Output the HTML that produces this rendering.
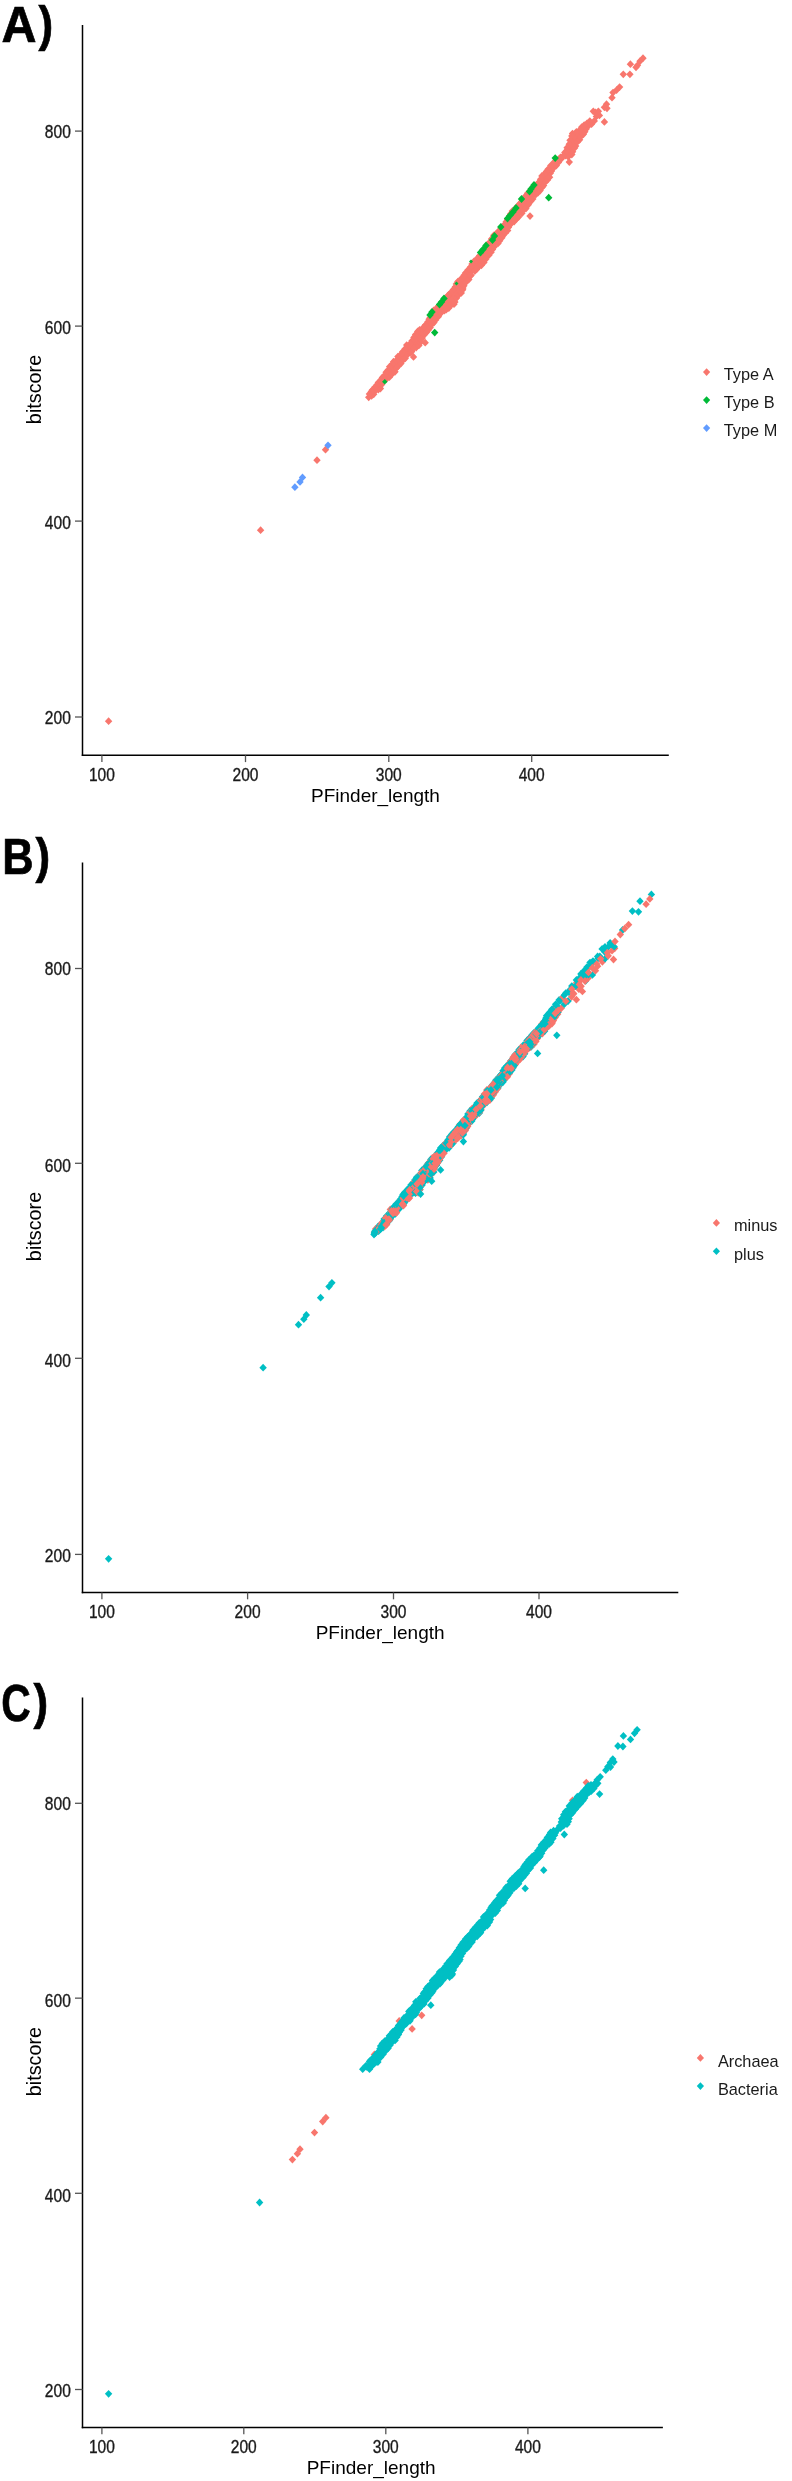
<!DOCTYPE html>
<html><head><meta charset="utf-8"><title>PFinder bitscore scatter</title>
<style>html,body{margin:0;padding:0;background:#fff;} svg{display:block;will-change:transform;}</style></head>
<body><svg width="792" height="2481" viewBox="0 0 792 2481">
<rect width="792" height="2481" fill="#fff"/>
<text transform="translate(1.55,41.75) scale(0.96,1)" font-family='"Liberation Sans", sans-serif' font-weight="bold" font-size="50.5" fill="#000" stroke="#000" stroke-width="0.7">A</text>
<text transform="translate(38.6,40.5) scale(0.87,1)" font-family='"Liberation Sans", sans-serif' font-weight="bold" font-size="50.5" fill="#000" stroke="#000" stroke-width="0.7">)</text>
<line x1="82.5" y1="25" x2="82.5" y2="756.05" stroke="#000" stroke-width="1.5"/>
<line x1="81.75" y1="755.3" x2="668.8" y2="755.3" stroke="#000" stroke-width="1.5"/>
<line x1="75.0" y1="131.1" x2="82.5" y2="131.1" stroke="#555" stroke-width="1.3"/>
<text transform="translate(70.8,138.3) scale(0.865,1)" text-anchor="end" font-family='"Liberation Sans", sans-serif' font-size="18" fill="#1a1a1a" stroke="#1a1a1a" stroke-width="0.35">800</text>
<line x1="75.0" y1="326.1" x2="82.5" y2="326.1" stroke="#555" stroke-width="1.3"/>
<text transform="translate(70.8,334.4) scale(0.865,1)" text-anchor="end" font-family='"Liberation Sans", sans-serif' font-size="18" fill="#1a1a1a" stroke="#1a1a1a" stroke-width="0.35">600</text>
<line x1="75.0" y1="521.1" x2="82.5" y2="521.1" stroke="#555" stroke-width="1.3"/>
<text transform="translate(70.8,529.3) scale(0.865,1)" text-anchor="end" font-family='"Liberation Sans", sans-serif' font-size="18" fill="#1a1a1a" stroke="#1a1a1a" stroke-width="0.35">400</text>
<line x1="75.0" y1="717.0" x2="82.5" y2="717.0" stroke="#555" stroke-width="1.3"/>
<text transform="translate(70.8,724.3) scale(0.865,1)" text-anchor="end" font-family='"Liberation Sans", sans-serif' font-size="18" fill="#1a1a1a" stroke="#1a1a1a" stroke-width="0.35">200</text>
<line x1="101.9" y1="755.3" x2="101.9" y2="762.0999999999999" stroke="#555" stroke-width="1.3"/>
<text transform="translate(101.9,780.9) scale(0.865,1)" text-anchor="middle" font-family='"Liberation Sans", sans-serif' font-size="18" fill="#1a1a1a" stroke="#1a1a1a" stroke-width="0.35">100</text>
<line x1="245.5" y1="755.3" x2="245.5" y2="762.0999999999999" stroke="#555" stroke-width="1.3"/>
<text transform="translate(245.5,780.9) scale(0.865,1)" text-anchor="middle" font-family='"Liberation Sans", sans-serif' font-size="18" fill="#1a1a1a" stroke="#1a1a1a" stroke-width="0.35">200</text>
<line x1="388.8" y1="755.3" x2="388.8" y2="762.0999999999999" stroke="#555" stroke-width="1.3"/>
<text transform="translate(388.8,780.9) scale(0.865,1)" text-anchor="middle" font-family='"Liberation Sans", sans-serif' font-size="18" fill="#1a1a1a" stroke="#1a1a1a" stroke-width="0.35">300</text>
<line x1="531.7" y1="755.3" x2="531.7" y2="762.0999999999999" stroke="#555" stroke-width="1.3"/>
<text transform="translate(531.7,780.9) scale(0.865,1)" text-anchor="middle" font-family='"Liberation Sans", sans-serif' font-size="18" fill="#1a1a1a" stroke="#1a1a1a" stroke-width="0.35">400</text>
<text x="311.0" y="801.6" font-family='"Liberation Sans", sans-serif' font-size="19.0" fill="#000">PFinder_length</text>
<text transform="translate(40.6,389.5) rotate(-90)" text-anchor="middle" font-family='"Liberation Sans", sans-serif' font-size="19.8" fill="#000">bitscore</text>
<path d="M706.6 368.3L710.2 372.1L706.6 375.9L703.0 372.1Z" fill="#F8766D"/>
<text transform="translate(723.8,379.5) scale(0.96,1)" font-family='"Liberation Sans", sans-serif' font-size="17" fill="#1a1a1a">Type A</text>
<path d="M706.6 396.3L710.2 400.1L706.6 403.9L703.0 400.1Z" fill="#00BA38"/>
<text transform="translate(723.8,407.5) scale(0.96,1)" font-family='"Liberation Sans", sans-serif' font-size="17" fill="#1a1a1a">Type B</text>
<path d="M706.6 424.3L710.2 428.1L706.6 431.9L703.0 428.1Z" fill="#619CFF"/>
<text transform="translate(723.8,435.5) scale(0.96,1)" font-family='"Liberation Sans", sans-serif' font-size="17" fill="#1a1a1a">Type M</text>
<path d="M367.2 396.4 L369.6 396.8 L373.3 394.7 L376.2 390.7 L380.8 387.0 L383.0 380.7 L390.4 376.5 L393.2 372.8 L401.2 362.6 L405.4 357.5 L414.9 348.0 L418.5 346.2 L423.3 335.7 L430.5 327.4 L438.1 316.9 L446.3 308.6 L454.5 303.9 L456.0 299.7 L460.1 294.1 L463.2 288.0 L465.6 283.6 L469.7 276.8 L473.9 272.1 L478.9 266.5 L482.0 264.0 L487.1 257.4 L489.8 253.1 L496.0 245.0 L504.1 234.9 L511.1 224.8 L521.2 213.6 L527.3 205.6 L535.5 195.3 L542.4 188.4 L548.2 178.7 L550.6 173.3 L556.9 164.0 L564.5 154.5 L568.8 156.5 L571.0 154.9 L573.6 150.6 L575.7 143.2 L582.0 135.9 L586.1 129.8 L592.2 122.6 L593.9 120.6 L591.2 121.1 L583.9 124.7 L580.1 129.9 L576.2 131.5 L573.2 133.0 L572.1 135.6 L570.2 139.9 L568.7 145.6 L565.4 152.2 L562.0 156.7 L557.0 160.8 L551.2 165.5 L546.1 172.5 L542.2 176.5 L538.8 181.8 L530.7 189.9 L526.6 195.8 L520.5 203.1 L514.5 209.1 L506.5 221.0 L501.3 228.3 L496.2 233.4 L488.3 243.3 L482.2 251.4 L478.8 255.7 L470.7 267.0 L462.6 276.0 L454.5 287.1 L446.3 297.3 L438.3 306.4 L430.5 315.2 L426.9 322.6 L420.7 329.0 L416.7 333.8 L411.7 341.0 L405.6 347.0 L402.7 352.0 L395.5 360.2 L392.5 364.1 L386.4 372.2 L380.3 380.4 L377.3 383.4 L372.3 390.4 L369.2 394.0 L367.2 396.4Z" fill="#F8766D" stroke="#F8766D" stroke-width="1" stroke-linejoin="round"/>
<path d="M368.7 393.4L372.4 397.3L368.7 401.2L365.0 397.3Z" fill="#F8766D"/>
<path d="M371.6 391.9L375.3 395.8L371.6 399.7L367.9 395.8Z" fill="#F8766D"/>
<path d="M373.7 390.4L377.4 394.3L373.7 398.2L370.0 394.3Z" fill="#F8766D"/>
<path d="M375.4 386.8L379.1 390.7L375.4 394.6L371.7 390.7Z" fill="#F8766D"/>
<path d="M378.3 385.8L382.0 389.7L378.3 393.6L374.6 389.7Z" fill="#F8766D"/>
<path d="M380.4 384.6L384.1 388.5L380.4 392.4L376.7 388.5Z" fill="#F8766D"/>
<path d="M381.7 380.6L385.4 384.5L381.7 388.4L378.0 384.5Z" fill="#F8766D"/>
<path d="M382.3 378.2L386.0 382.1L382.3 386.0L378.6 382.1Z" fill="#F8766D"/>
<path d="M383.1 375.9L386.8 379.8L383.1 383.7L379.4 379.8Z" fill="#F8766D"/>
<path d="M386.2 375.4L389.9 379.3L386.2 383.2L382.5 379.3Z" fill="#F8766D"/>
<path d="M389.4 373.3L393.1 377.2L389.4 381.1L385.7 377.2Z" fill="#F8766D"/>
<path d="M391.7 370.5L395.4 374.4L391.7 378.3L388.0 374.4Z" fill="#F8766D"/>
<path d="M395.0 367.9L398.7 371.8L395.0 375.7L391.3 371.8Z" fill="#F8766D"/>
<path d="M396.4 364.1L400.1 368.0L396.4 371.9L392.7 368.0Z" fill="#F8766D"/>
<path d="M397.8 362.6L401.5 366.5L397.8 370.4L394.1 366.5Z" fill="#F8766D"/>
<path d="M400.9 359.7L404.6 363.6L400.9 367.5L397.2 363.6Z" fill="#F8766D"/>
<path d="M403.5 355.8L407.2 359.7L403.5 363.6L399.8 359.7Z" fill="#F8766D"/>
<path d="M405.3 354.4L409.0 358.3L405.3 362.2L401.6 358.3Z" fill="#F8766D"/>
<path d="M407.5 350.8L411.2 354.7L407.5 358.6L403.8 354.7Z" fill="#F8766D"/>
<path d="M410.6 348.5L414.3 352.4L410.6 356.3L406.9 352.4Z" fill="#F8766D"/>
<path d="M411.7 347.7L415.4 351.6L411.7 355.5L408.0 351.6Z" fill="#F8766D"/>
<path d="M414.1 344.0L417.8 347.9L414.1 351.8L410.4 347.9Z" fill="#F8766D"/>
<path d="M416.2 343.6L419.9 347.5L416.2 351.4L412.5 347.5Z" fill="#F8766D"/>
<path d="M418.9 341.5L422.6 345.4L418.9 349.3L415.2 345.4Z" fill="#F8766D"/>
<path d="M420.3 338.6L424.0 342.5L420.3 346.4L416.6 342.5Z" fill="#F8766D"/>
<path d="M420.9 335.8L424.6 339.7L420.9 343.6L417.2 339.7Z" fill="#F8766D"/>
<path d="M422.2 334.1L425.9 338.0L422.2 341.9L418.5 338.0Z" fill="#F8766D"/>
<path d="M424.4 330.7L428.1 334.6L424.4 338.5L420.7 334.6Z" fill="#F8766D"/>
<path d="M426.3 328.6L430.0 332.5L426.3 336.4L422.6 332.5Z" fill="#F8766D"/>
<path d="M428.2 326.1L431.9 330.0L428.2 333.9L424.5 330.0Z" fill="#F8766D"/>
<path d="M430.2 323.7L433.9 327.6L430.2 331.5L426.5 327.6Z" fill="#F8766D"/>
<path d="M432.0 320.3L435.7 324.2L432.0 328.1L428.3 324.2Z" fill="#F8766D"/>
<path d="M433.9 318.6L437.6 322.5L433.9 326.4L430.2 322.5Z" fill="#F8766D"/>
<path d="M435.6 316.0L439.3 319.9L435.6 323.8L431.9 319.9Z" fill="#F8766D"/>
<path d="M438.3 312.8L442.0 316.7L438.3 320.6L434.6 316.7Z" fill="#F8766D"/>
<path d="M440.7 309.4L444.4 313.3L440.7 317.2L437.0 313.3Z" fill="#F8766D"/>
<path d="M444.5 306.6L448.2 310.5L444.5 314.4L440.8 310.5Z" fill="#F8766D"/>
<path d="M446.3 305.6L450.0 309.5L446.3 313.4L442.6 309.5Z" fill="#F8766D"/>
<path d="M448.8 304.1L452.5 308.0L448.8 311.9L445.1 308.0Z" fill="#F8766D"/>
<path d="M451.1 301.3L454.8 305.2L451.1 309.1L447.4 305.2Z" fill="#F8766D"/>
<path d="M454.0 300.3L457.7 304.2L454.0 308.1L450.3 304.2Z" fill="#F8766D"/>
<path d="M454.9 298.2L458.6 302.1L454.9 306.0L451.2 302.1Z" fill="#F8766D"/>
<path d="M456.5 294.2L460.2 298.1L456.5 302.0L452.8 298.1Z" fill="#F8766D"/>
<path d="M458.4 291.3L462.1 295.2L458.4 299.1L454.7 295.2Z" fill="#F8766D"/>
<path d="M461.3 289.0L465.0 292.9L461.3 296.8L457.6 292.9Z" fill="#F8766D"/>
<path d="M462.7 285.8L466.4 289.7L462.7 293.6L459.0 289.7Z" fill="#F8766D"/>
<path d="M462.9 284.1L466.6 288.0L462.9 291.9L459.2 288.0Z" fill="#F8766D"/>
<path d="M463.9 281.8L467.6 285.7L463.9 289.6L460.2 285.7Z" fill="#F8766D"/>
<path d="M465.5 278.8L469.2 282.7L465.5 286.6L461.8 282.7Z" fill="#F8766D"/>
<path d="M468.8 275.7L472.5 279.6L468.8 283.5L465.1 279.6Z" fill="#F8766D"/>
<path d="M470.3 272.0L474.0 275.9L470.3 279.8L466.6 275.9Z" fill="#F8766D"/>
<path d="M471.1 271.3L474.8 275.2L471.1 279.1L467.4 275.2Z" fill="#F8766D"/>
<path d="M474.8 267.2L478.5 271.1L474.8 275.0L471.1 271.1Z" fill="#F8766D"/>
<path d="M476.5 265.5L480.2 269.4L476.5 273.3L472.8 269.4Z" fill="#F8766D"/>
<path d="M479.2 262.4L482.9 266.3L479.2 270.2L475.5 266.3Z" fill="#F8766D"/>
<path d="M481.4 261.4L485.1 265.3L481.4 269.2L477.7 265.3Z" fill="#F8766D"/>
<path d="M483.9 258.5L487.6 262.4L483.9 266.3L480.2 262.4Z" fill="#F8766D"/>
<path d="M485.9 255.1L489.6 259.0L485.9 262.9L482.2 259.0Z" fill="#F8766D"/>
<path d="M488.9 251.3L492.6 255.2L488.9 259.1L485.2 255.2Z" fill="#F8766D"/>
<path d="M491.1 248.3L494.8 252.2L491.1 256.1L487.4 252.2Z" fill="#F8766D"/>
<path d="M492.5 245.5L496.2 249.4L492.5 253.3L488.8 249.4Z" fill="#F8766D"/>
<path d="M494.3 242.8L498.0 246.7L494.3 250.6L490.6 246.7Z" fill="#F8766D"/>
<path d="M498.0 239.5L501.7 243.4L498.0 247.3L494.3 243.4Z" fill="#F8766D"/>
<path d="M499.7 236.9L503.4 240.8L499.7 244.7L496.0 240.8Z" fill="#F8766D"/>
<path d="M501.9 233.8L505.6 237.7L501.9 241.6L498.2 237.7Z" fill="#F8766D"/>
<path d="M503.1 231.5L506.8 235.4L503.1 239.3L499.4 235.4Z" fill="#F8766D"/>
<path d="M505.3 229.0L509.0 232.9L505.3 236.8L501.6 232.9Z" fill="#F8766D"/>
<path d="M507.7 226.6L511.4 230.5L507.7 234.4L504.0 230.5Z" fill="#F8766D"/>
<path d="M508.5 223.4L512.2 227.3L508.5 231.2L504.8 227.3Z" fill="#F8766D"/>
<path d="M510.8 220.2L514.5 224.1L510.8 228.0L507.1 224.1Z" fill="#F8766D"/>
<path d="M514.2 217.6L517.9 221.5L514.2 225.4L510.5 221.5Z" fill="#F8766D"/>
<path d="M516.5 214.9L520.2 218.8L516.5 222.7L512.8 218.8Z" fill="#F8766D"/>
<path d="M518.5 213.1L522.2 217.0L518.5 220.9L514.8 217.0Z" fill="#F8766D"/>
<path d="M521.9 209.4L525.6 213.3L521.9 217.2L518.2 213.3Z" fill="#F8766D"/>
<path d="M523.2 206.3L526.9 210.2L523.2 214.1L519.5 210.2Z" fill="#F8766D"/>
<path d="M525.9 204.7L529.6 208.6L525.9 212.5L522.2 208.6Z" fill="#F8766D"/>
<path d="M528.3 200.9L532.0 204.8L528.3 208.7L524.6 204.8Z" fill="#F8766D"/>
<path d="M529.2 198.9L532.9 202.8L529.2 206.7L525.5 202.8Z" fill="#F8766D"/>
<path d="M530.9 197.2L534.6 201.1L530.9 205.0L527.2 201.1Z" fill="#F8766D"/>
<path d="M532.8 195.0L536.5 198.9L532.8 202.8L529.1 198.9Z" fill="#F8766D"/>
<path d="M535.7 190.6L539.4 194.5L535.7 198.4L532.0 194.5Z" fill="#F8766D"/>
<path d="M537.9 188.9L541.6 192.8L537.9 196.7L534.2 192.8Z" fill="#F8766D"/>
<path d="M540.1 186.6L543.8 190.5L540.1 194.4L536.4 190.5Z" fill="#F8766D"/>
<path d="M542.0 183.5L545.7 187.4L542.0 191.3L538.3 187.4Z" fill="#F8766D"/>
<path d="M543.6 181.7L547.3 185.6L543.6 189.5L539.9 185.6Z" fill="#F8766D"/>
<path d="M545.2 178.3L548.9 182.2L545.2 186.1L541.5 182.2Z" fill="#F8766D"/>
<path d="M547.5 176.0L551.2 179.9L547.5 183.8L543.8 179.9Z" fill="#F8766D"/>
<path d="M549.6 173.3L553.3 177.2L549.6 181.1L545.9 177.2Z" fill="#F8766D"/>
<path d="M550.3 169.3L554.0 173.2L550.3 177.1L546.6 173.2Z" fill="#F8766D"/>
<path d="M551.5 167.1L555.2 171.0L551.5 174.9L547.8 171.0Z" fill="#F8766D"/>
<path d="M553.9 163.7L557.6 167.6L553.9 171.5L550.2 167.6Z" fill="#F8766D"/>
<path d="M556.3 161.6L560.0 165.5L556.3 169.4L552.6 165.5Z" fill="#F8766D"/>
<path d="M558.4 158.5L562.1 162.4L558.4 166.3L554.7 162.4Z" fill="#F8766D"/>
<path d="M561.1 155.1L564.8 159.0L561.1 162.9L557.4 159.0Z" fill="#F8766D"/>
<path d="M563.4 151.9L567.1 155.8L563.4 159.7L559.7 155.8Z" fill="#F8766D"/>
<path d="M565.5 151.6L569.2 155.5L565.5 159.4L561.8 155.5Z" fill="#F8766D"/>
<path d="M568.2 152.9L571.9 156.8L568.2 160.7L564.5 156.8Z" fill="#F8766D"/>
<path d="M571.8 150.6L575.5 154.5L571.8 158.4L568.1 154.5Z" fill="#F8766D"/>
<path d="M572.6 147.9L576.3 151.8L572.6 155.7L568.9 151.8Z" fill="#F8766D"/>
<path d="M574.6 144.2L578.3 148.1L574.6 152.0L570.9 148.1Z" fill="#F8766D"/>
<path d="M575.7 142.0L579.4 145.9L575.7 149.8L572.0 145.9Z" fill="#F8766D"/>
<path d="M577.2 138.1L580.9 142.0L577.2 145.9L573.5 142.0Z" fill="#F8766D"/>
<path d="M579.6 135.9L583.3 139.8L579.6 143.7L575.9 139.8Z" fill="#F8766D"/>
<path d="M580.4 133.1L584.1 137.0L580.4 140.9L576.7 137.0Z" fill="#F8766D"/>
<path d="M583.4 130.4L587.1 134.3L583.4 138.2L579.7 134.3Z" fill="#F8766D"/>
<path d="M584.8 127.9L588.5 131.8L584.8 135.7L581.1 131.8Z" fill="#F8766D"/>
<path d="M586.1 125.1L589.8 129.0L586.1 132.9L582.4 129.0Z" fill="#F8766D"/>
<path d="M588.6 121.8L592.3 125.7L588.6 129.6L584.9 125.7Z" fill="#F8766D"/>
<path d="M591.5 120.3L595.2 124.2L591.5 128.1L587.8 124.2Z" fill="#F8766D"/>
<path d="M594.3 117.0L598.0 120.9L594.3 124.8L590.6 120.9Z" fill="#F8766D"/>
<path d="M589.8 117.2L593.5 121.1L589.8 125.0L586.1 121.1Z" fill="#F8766D"/>
<path d="M587.0 119.4L590.7 123.3L587.0 127.2L583.3 123.3Z" fill="#F8766D"/>
<path d="M584.2 121.2L587.9 125.1L584.2 129.0L580.5 125.1Z" fill="#F8766D"/>
<path d="M581.8 123.2L585.5 127.1L581.8 131.0L578.1 127.1Z" fill="#F8766D"/>
<path d="M580.0 125.8L583.7 129.7L580.0 133.6L576.3 129.7Z" fill="#F8766D"/>
<path d="M576.4 127.9L580.1 131.8L576.4 135.7L572.7 131.8Z" fill="#F8766D"/>
<path d="M572.5 129.7L576.2 133.6L572.5 137.5L568.8 133.6Z" fill="#F8766D"/>
<path d="M571.8 132.0L575.5 135.9L571.8 139.8L568.1 135.9Z" fill="#F8766D"/>
<path d="M570.0 136.4L573.7 140.3L570.0 144.2L566.3 140.3Z" fill="#F8766D"/>
<path d="M569.2 140.3L572.9 144.2L569.2 148.1L565.5 144.2Z" fill="#F8766D"/>
<path d="M567.1 143.8L570.8 147.7L567.1 151.6L563.4 147.7Z" fill="#F8766D"/>
<path d="M566.9 147.1L570.6 151.0L566.9 154.9L563.2 151.0Z" fill="#F8766D"/>
<path d="M564.8 148.5L568.5 152.4L564.8 156.3L561.1 152.4Z" fill="#F8766D"/>
<path d="M563.4 152.1L567.1 156.0L563.4 159.9L559.7 156.0Z" fill="#F8766D"/>
<path d="M560.5 153.4L564.2 157.3L560.5 161.2L556.8 157.3Z" fill="#F8766D"/>
<path d="M558.6 155.5L562.3 159.4L558.6 163.3L554.9 159.4Z" fill="#F8766D"/>
<path d="M554.3 158.1L558.0 162.0L554.3 165.9L550.6 162.0Z" fill="#F8766D"/>
<path d="M553.1 160.0L556.8 163.9L553.1 167.8L549.4 163.9Z" fill="#F8766D"/>
<path d="M550.8 161.7L554.5 165.6L550.8 169.5L547.1 165.6Z" fill="#F8766D"/>
<path d="M548.0 165.4L551.7 169.3L548.0 173.2L544.3 169.3Z" fill="#F8766D"/>
<path d="M546.4 167.7L550.1 171.6L546.4 175.5L542.7 171.6Z" fill="#F8766D"/>
<path d="M544.6 169.9L548.3 173.8L544.6 177.7L540.9 173.8Z" fill="#F8766D"/>
<path d="M541.9 172.0L545.6 175.9L541.9 179.8L538.2 175.9Z" fill="#F8766D"/>
<path d="M540.6 175.4L544.3 179.3L540.6 183.2L536.9 179.3Z" fill="#F8766D"/>
<path d="M538.2 179.1L541.9 183.0L538.2 186.9L534.5 183.0Z" fill="#F8766D"/>
<path d="M536.5 181.0L540.2 184.9L536.5 188.8L532.8 184.9Z" fill="#F8766D"/>
<path d="M533.0 183.2L536.7 187.1L533.0 191.0L529.3 187.1Z" fill="#F8766D"/>
<path d="M530.0 187.1L533.7 191.0L530.0 194.9L526.3 191.0Z" fill="#F8766D"/>
<path d="M527.6 189.4L531.3 193.3L527.6 197.2L523.9 193.3Z" fill="#F8766D"/>
<path d="M525.5 192.2L529.2 196.1L525.5 200.0L521.8 196.1Z" fill="#F8766D"/>
<path d="M523.2 196.2L526.9 200.1L523.2 204.0L519.5 200.1Z" fill="#F8766D"/>
<path d="M521.5 198.0L525.2 201.9L521.5 205.8L517.8 201.9Z" fill="#F8766D"/>
<path d="M519.7 199.8L523.4 203.7L519.7 207.6L516.0 203.7Z" fill="#F8766D"/>
<path d="M517.9 201.9L521.6 205.8L517.9 209.7L514.2 205.8Z" fill="#F8766D"/>
<path d="M515.2 204.8L518.9 208.7L515.2 212.6L511.5 208.7Z" fill="#F8766D"/>
<path d="M512.3 207.2L516.0 211.1L512.3 215.0L508.6 211.1Z" fill="#F8766D"/>
<path d="M510.7 209.9L514.4 213.8L510.7 217.7L507.0 213.8Z" fill="#F8766D"/>
<path d="M509.6 212.1L513.3 216.0L509.6 219.9L505.9 216.0Z" fill="#F8766D"/>
<path d="M507.6 215.3L511.3 219.2L507.6 223.1L503.9 219.2Z" fill="#F8766D"/>
<path d="M506.2 217.8L509.9 221.7L506.2 225.6L502.5 221.7Z" fill="#F8766D"/>
<path d="M504.8 220.3L508.5 224.2L504.8 228.1L501.1 224.2Z" fill="#F8766D"/>
<path d="M501.8 223.4L505.5 227.3L501.8 231.2L498.1 227.3Z" fill="#F8766D"/>
<path d="M499.7 226.1L503.4 230.0L499.7 233.9L496.0 230.0Z" fill="#F8766D"/>
<path d="M498.4 228.1L502.1 232.0L498.4 235.9L494.7 232.0Z" fill="#F8766D"/>
<path d="M496.1 229.8L499.8 233.7L496.1 237.6L492.4 233.7Z" fill="#F8766D"/>
<path d="M493.8 231.4L497.5 235.3L493.8 239.2L490.1 235.3Z" fill="#F8766D"/>
<path d="M491.5 235.1L495.2 239.0L491.5 242.9L487.8 239.0Z" fill="#F8766D"/>
<path d="M490.1 238.1L493.8 242.0L490.1 245.9L486.4 242.0Z" fill="#F8766D"/>
<path d="M487.5 240.5L491.2 244.4L487.5 248.3L483.8 244.4Z" fill="#F8766D"/>
<path d="M486.3 243.4L490.0 247.3L486.3 251.2L482.6 247.3Z" fill="#F8766D"/>
<path d="M484.5 245.6L488.2 249.5L484.5 253.4L480.8 249.5Z" fill="#F8766D"/>
<path d="M482.0 248.2L485.7 252.1L482.0 256.0L478.3 252.1Z" fill="#F8766D"/>
<path d="M479.6 251.8L483.3 255.7L479.6 259.6L475.9 255.7Z" fill="#F8766D"/>
<path d="M477.2 254.5L480.9 258.4L477.2 262.3L473.5 258.4Z" fill="#F8766D"/>
<path d="M474.0 257.4L477.7 261.3L474.0 265.2L470.3 261.3Z" fill="#F8766D"/>
<path d="M472.0 260.1L475.7 264.0L472.0 267.9L468.3 264.0Z" fill="#F8766D"/>
<path d="M470.8 262.8L474.5 266.7L470.8 270.6L467.1 266.7Z" fill="#F8766D"/>
<path d="M468.0 266.0L471.7 269.9L468.0 273.8L464.3 269.9Z" fill="#F8766D"/>
<path d="M465.5 269.0L469.2 272.9L465.5 276.8L461.8 272.9Z" fill="#F8766D"/>
<path d="M464.0 271.4L467.7 275.3L464.0 279.2L460.3 275.3Z" fill="#F8766D"/>
<path d="M461.4 274.8L465.1 278.7L461.4 282.6L457.7 278.7Z" fill="#F8766D"/>
<path d="M459.8 276.4L463.5 280.3L459.8 284.2L456.1 280.3Z" fill="#F8766D"/>
<path d="M457.9 277.7L461.6 281.6L457.9 285.5L454.2 281.6Z" fill="#F8766D"/>
<path d="M456.3 280.0L460.0 283.9L456.3 287.8L452.6 283.9Z" fill="#F8766D"/>
<path d="M455.4 282.9L459.1 286.8L455.4 290.7L451.7 286.8Z" fill="#F8766D"/>
<path d="M453.4 285.5L457.1 289.4L453.4 293.3L449.7 289.4Z" fill="#F8766D"/>
<path d="M450.3 289.2L454.0 293.1L450.3 297.0L446.6 293.1Z" fill="#F8766D"/>
<path d="M448.7 291.0L452.4 294.9L448.7 298.8L445.0 294.9Z" fill="#F8766D"/>
<path d="M447.6 292.1L451.3 296.0L447.6 299.9L443.9 296.0Z" fill="#F8766D"/>
<path d="M444.4 295.0L448.1 298.9L444.4 302.8L440.7 298.9Z" fill="#F8766D"/>
<path d="M442.0 298.3L445.7 302.2L442.0 306.1L438.3 302.2Z" fill="#F8766D"/>
<path d="M440.5 300.1L444.2 304.0L440.5 307.9L436.8 304.0Z" fill="#F8766D"/>
<path d="M438.2 302.5L441.9 306.4L438.2 310.3L434.5 306.4Z" fill="#F8766D"/>
<path d="M435.9 305.1L439.6 309.0L435.9 312.9L432.2 309.0Z" fill="#F8766D"/>
<path d="M433.6 306.6L437.3 310.5L433.6 314.4L429.9 310.5Z" fill="#F8766D"/>
<path d="M432.2 309.1L435.9 313.0L432.2 316.9L428.5 313.0Z" fill="#F8766D"/>
<path d="M431.2 311.4L434.9 315.3L431.2 319.2L427.5 315.3Z" fill="#F8766D"/>
<path d="M430.2 313.8L433.9 317.7L430.2 321.6L426.5 317.7Z" fill="#F8766D"/>
<path d="M429.1 315.3L432.8 319.2L429.1 323.1L425.4 319.2Z" fill="#F8766D"/>
<path d="M427.8 318.0L431.5 321.9L427.8 325.8L424.1 321.9Z" fill="#F8766D"/>
<path d="M425.5 321.1L429.2 325.0L425.5 328.9L421.8 325.0Z" fill="#F8766D"/>
<path d="M423.3 323.6L427.0 327.5L423.3 331.4L419.6 327.5Z" fill="#F8766D"/>
<path d="M419.6 325.9L423.3 329.8L419.6 333.7L415.9 329.8Z" fill="#F8766D"/>
<path d="M417.7 327.5L421.4 331.4L417.7 335.3L414.0 331.4Z" fill="#F8766D"/>
<path d="M415.6 330.7L419.3 334.6L415.6 338.5L411.9 334.6Z" fill="#F8766D"/>
<path d="M413.9 333.5L417.6 337.4L413.9 341.3L410.2 337.4Z" fill="#F8766D"/>
<path d="M411.9 337.0L415.6 340.9L411.9 344.8L408.2 340.9Z" fill="#F8766D"/>
<path d="M410.4 339.7L414.1 343.6L410.4 347.5L406.7 343.6Z" fill="#F8766D"/>
<path d="M406.7 341.2L410.4 345.1L406.7 349.0L403.0 345.1Z" fill="#F8766D"/>
<path d="M405.0 345.1L408.7 349.0L405.0 352.9L401.3 349.0Z" fill="#F8766D"/>
<path d="M402.7 347.8L406.4 351.7L402.7 355.6L399.0 351.7Z" fill="#F8766D"/>
<path d="M401.0 350.3L404.7 354.2L401.0 358.1L397.3 354.2Z" fill="#F8766D"/>
<path d="M397.9 352.7L401.6 356.6L397.9 360.5L394.2 356.6Z" fill="#F8766D"/>
<path d="M396.1 356.7L399.8 360.6L396.1 364.5L392.4 360.6Z" fill="#F8766D"/>
<path d="M393.5 357.8L397.2 361.7L393.5 365.6L389.8 361.7Z" fill="#F8766D"/>
<path d="M392.4 360.1L396.1 364.0L392.4 367.9L388.7 364.0Z" fill="#F8766D"/>
<path d="M389.6 362.8L393.3 366.7L389.6 370.6L385.9 366.7Z" fill="#F8766D"/>
<path d="M388.0 366.4L391.7 370.3L388.0 374.2L384.3 370.3Z" fill="#F8766D"/>
<path d="M386.1 368.3L389.8 372.2L386.1 376.1L382.4 372.2Z" fill="#F8766D"/>
<path d="M384.7 371.6L388.4 375.5L384.7 379.4L381.0 375.5Z" fill="#F8766D"/>
<path d="M382.4 373.5L386.1 377.4L382.4 381.3L378.7 377.4Z" fill="#F8766D"/>
<path d="M381.2 375.5L384.9 379.4L381.2 383.3L377.5 379.4Z" fill="#F8766D"/>
<path d="M378.3 378.7L382.0 382.6L378.3 386.5L374.6 382.6Z" fill="#F8766D"/>
<path d="M376.9 381.2L380.6 385.1L376.9 389.0L373.2 385.1Z" fill="#F8766D"/>
<path d="M375.0 383.2L378.7 387.1L375.0 391.0L371.3 387.1Z" fill="#F8766D"/>
<path d="M372.4 386.1L376.1 390.0L372.4 393.9L368.7 390.0Z" fill="#F8766D"/>
<path d="M371.4 387.6L375.1 391.5L371.4 395.4L367.7 391.5Z" fill="#F8766D"/>
<path d="M369.4 390.0L373.1 393.9L369.4 397.8L365.7 393.9Z" fill="#F8766D"/>
<path d="M108.6 717.3L112.3 721.2L108.6 725.1L104.9 721.2Z" fill="#F8766D"/>
<path d="M260.6 526.3L264.3 530.2L260.6 534.1L256.9 530.2Z" fill="#F8766D"/>
<path d="M317.0 456.3L320.7 460.2L317.0 464.1L313.3 460.2Z" fill="#F8766D"/>
<path d="M325.5 445.8L329.2 449.7L325.5 453.6L321.8 449.7Z" fill="#F8766D"/>
<path d="M643.0 54.3L646.7 58.2L643.0 62.1L639.3 58.2Z" fill="#F8766D"/>
<path d="M640.0 57.3L643.7 61.2L640.0 65.1L636.3 61.2Z" fill="#F8766D"/>
<path d="M637.5 61.4L641.2 65.3L637.5 69.2L633.8 65.3Z" fill="#F8766D"/>
<path d="M636.0 63.4L639.7 67.3L636.0 71.2L632.3 67.3Z" fill="#F8766D"/>
<path d="M630.4 60.3L634.1 64.2L630.4 68.1L626.7 64.2Z" fill="#F8766D"/>
<path d="M629.9 70.4L633.6 74.3L629.9 78.2L626.2 74.3Z" fill="#F8766D"/>
<path d="M623.3 70.4L627.0 74.3L623.3 78.2L619.6 74.3Z" fill="#F8766D"/>
<path d="M619.6 83.2L623.3 87.1L619.6 91.0L615.9 87.1Z" fill="#F8766D"/>
<path d="M616.6 86.2L620.3 90.1L616.6 94.0L612.9 90.1Z" fill="#F8766D"/>
<path d="M613.0 88.7L616.7 92.6L613.0 96.5L609.3 92.6Z" fill="#F8766D"/>
<path d="M612.0 93.8L615.7 97.7L612.0 101.6L608.3 97.7Z" fill="#F8766D"/>
<path d="M606.5 100.3L610.2 104.2L606.5 108.1L602.8 104.2Z" fill="#F8766D"/>
<path d="M604.4 103.4L608.1 107.3L604.4 111.2L600.7 107.3Z" fill="#F8766D"/>
<path d="M607.0 104.4L610.7 108.3L607.0 112.2L603.3 108.3Z" fill="#F8766D"/>
<path d="M598.4 107.4L602.1 111.3L598.4 115.2L594.7 111.3Z" fill="#F8766D"/>
<path d="M595.4 108.4L599.1 112.3L595.4 116.2L591.7 112.3Z" fill="#F8766D"/>
<path d="M593.3 107.4L597.0 111.3L593.3 115.2L589.6 111.3Z" fill="#F8766D"/>
<path d="M599.4 111.5L603.1 115.4L599.4 119.3L595.7 115.4Z" fill="#F8766D"/>
<path d="M596.4 112.5L600.1 116.4L596.4 120.3L592.7 116.4Z" fill="#F8766D"/>
<path d="M604.4 118.0L608.1 121.9L604.4 125.8L600.7 121.9Z" fill="#F8766D"/>
<path d="M569.3 158.2L573.0 162.1L569.3 166.0L565.6 162.1Z" fill="#F8766D"/>
<path d="M530.0 212.2L533.7 216.1L530.0 220.0L526.3 216.1Z" fill="#F8766D"/>
<path d="M425.2 338.8L428.9 342.7L425.2 346.6L421.5 342.7Z" fill="#F8766D"/>
<path d="M413.5 353.0L417.2 356.9L413.5 360.8L409.8 356.9Z" fill="#F8766D"/>
<path d="M294.9 483.3L298.6 487.2L294.9 491.1L291.2 487.2Z" fill="#619CFF"/>
<path d="M300.0 478.0L303.7 481.9L300.0 485.8L296.3 481.9Z" fill="#619CFF"/>
<path d="M302.5 473.5L306.2 477.4L302.5 481.3L298.8 477.4Z" fill="#619CFF"/>
<path d="M328.0 441.4L331.7 445.3L328.0 449.2L324.3 445.3Z" fill="#619CFF"/>
<path d="M384.8 379.0L387.5 381.8L384.8 384.6L382.1 381.8Z" fill="#00BA38"/>
<path d="M456.5 281.4L458.5 283.5L456.5 285.6L454.5 283.5Z" fill="#00BA38"/>
<path d="M471.0 259.4L473.0 261.5L471.0 263.6L469.0 261.5Z" fill="#00BA38"/>
<path d="M434.7 328.7L438.4 332.6L434.7 336.5L431.0 332.6Z" fill="#00BA38"/>
<path d="M548.7 193.8L552.4 197.7L548.7 201.6L545.0 197.7Z" fill="#00BA38"/>
<path d="M555.2 154.2L558.9 158.1L555.2 162.0L551.5 158.1Z" fill="#00BA38"/>
<path d="M534.0 181.1L537.7 185.0L534.0 188.9L530.3 185.0Z" fill="#00BA38"/>
<path d="M531.0 185.1L534.7 189.0L531.0 192.9L527.3 189.0Z" fill="#00BA38"/>
<path d="M529.5 187.6L533.2 191.5L529.5 195.4L525.8 191.5Z" fill="#00BA38"/>
<path d="M521.5 195.1L525.2 199.0L521.5 202.9L517.8 199.0Z" fill="#00BA38"/>
<path d="M516.0 204.1L519.7 208.0L516.0 211.9L512.3 208.0Z" fill="#00BA38"/>
<path d="M513.0 208.1L516.7 212.0L513.0 215.9L509.3 212.0Z" fill="#00BA38"/>
<path d="M510.0 211.6L513.7 215.5L510.0 219.4L506.3 215.5Z" fill="#00BA38"/>
<path d="M507.5 214.6L511.2 218.5L507.5 222.4L503.8 218.5Z" fill="#00BA38"/>
<path d="M500.8 223.1L504.5 227.0L500.8 230.9L497.1 227.0Z" fill="#00BA38"/>
<path d="M494.5 232.1L498.2 236.0L494.5 239.9L490.8 236.0Z" fill="#00BA38"/>
<path d="M492.5 236.1L496.2 240.0L492.5 243.9L488.8 240.0Z" fill="#00BA38"/>
<path d="M486.0 241.6L489.7 245.5L486.0 249.4L482.3 245.5Z" fill="#00BA38"/>
<path d="M483.0 245.6L486.7 249.5L483.0 253.4L479.3 249.5Z" fill="#00BA38"/>
<path d="M480.5 248.6L484.2 252.5L480.5 256.4L476.8 252.5Z" fill="#00BA38"/>
<path d="M444.0 294.6L447.7 298.5L444.0 302.4L440.3 298.5Z" fill="#00BA38"/>
<path d="M441.5 298.1L445.2 302.0L441.5 305.9L437.8 302.0Z" fill="#00BA38"/>
<path d="M439.5 300.6L443.2 304.5L439.5 308.4L435.8 304.5Z" fill="#00BA38"/>
<path d="M432.0 308.1L435.7 312.0L432.0 315.9L428.3 312.0Z" fill="#00BA38"/>
<path d="M430.0 311.1L433.7 315.0L430.0 318.9L426.3 315.0Z" fill="#00BA38"/>
<text transform="translate(2.26,873.6) scale(0.86,1)" font-family='"Liberation Sans", sans-serif' font-weight="bold" font-size="50.5" fill="#000" stroke="#000" stroke-width="0.7">B</text>
<text transform="translate(35.6,872.5) scale(0.87,1)" font-family='"Liberation Sans", sans-serif' font-weight="bold" font-size="50.5" fill="#000" stroke="#000" stroke-width="0.7">)</text>
<line x1="82.5" y1="862.6" x2="82.5" y2="1593.25" stroke="#000" stroke-width="1.5"/>
<line x1="81.75" y1="1592.5" x2="678.3" y2="1592.5" stroke="#000" stroke-width="1.5"/>
<line x1="75.0" y1="968.5" x2="82.5" y2="968.5" stroke="#555" stroke-width="1.3"/>
<text transform="translate(70.8,975.4) scale(0.865,1)" text-anchor="end" font-family='"Liberation Sans", sans-serif' font-size="18" fill="#1a1a1a" stroke="#1a1a1a" stroke-width="0.35">800</text>
<line x1="75.0" y1="1163.3" x2="82.5" y2="1163.3" stroke="#555" stroke-width="1.3"/>
<text transform="translate(70.8,1172.0) scale(0.865,1)" text-anchor="end" font-family='"Liberation Sans", sans-serif' font-size="18" fill="#1a1a1a" stroke="#1a1a1a" stroke-width="0.35">600</text>
<line x1="75.0" y1="1358.3" x2="82.5" y2="1358.3" stroke="#555" stroke-width="1.3"/>
<text transform="translate(70.8,1366.5) scale(0.865,1)" text-anchor="end" font-family='"Liberation Sans", sans-serif' font-size="18" fill="#1a1a1a" stroke="#1a1a1a" stroke-width="0.35">400</text>
<line x1="75.0" y1="1554.4" x2="82.5" y2="1554.4" stroke="#555" stroke-width="1.3"/>
<text transform="translate(70.8,1561.7) scale(0.865,1)" text-anchor="end" font-family='"Liberation Sans", sans-serif' font-size="18" fill="#1a1a1a" stroke="#1a1a1a" stroke-width="0.35">200</text>
<line x1="101.9" y1="1592.5" x2="101.9" y2="1599.3" stroke="#555" stroke-width="1.3"/>
<text transform="translate(101.9,1618.1) scale(0.865,1)" text-anchor="middle" font-family='"Liberation Sans", sans-serif' font-size="18" fill="#1a1a1a" stroke="#1a1a1a" stroke-width="0.35">100</text>
<line x1="247.6" y1="1592.5" x2="247.6" y2="1599.3" stroke="#555" stroke-width="1.3"/>
<text transform="translate(247.6,1618.1) scale(0.865,1)" text-anchor="middle" font-family='"Liberation Sans", sans-serif' font-size="18" fill="#1a1a1a" stroke="#1a1a1a" stroke-width="0.35">200</text>
<line x1="393.5" y1="1592.5" x2="393.5" y2="1599.3" stroke="#555" stroke-width="1.3"/>
<text transform="translate(393.5,1618.1) scale(0.865,1)" text-anchor="middle" font-family='"Liberation Sans", sans-serif' font-size="18" fill="#1a1a1a" stroke="#1a1a1a" stroke-width="0.35">300</text>
<line x1="539" y1="1592.5" x2="539" y2="1599.3" stroke="#555" stroke-width="1.3"/>
<text transform="translate(539,1618.1) scale(0.865,1)" text-anchor="middle" font-family='"Liberation Sans", sans-serif' font-size="18" fill="#1a1a1a" stroke="#1a1a1a" stroke-width="0.35">400</text>
<text x="315.7" y="1639.0" font-family='"Liberation Sans", sans-serif' font-size="19.0" fill="#000">PFinder_length</text>
<text transform="translate(40.6,1226.5) rotate(-90)" text-anchor="middle" font-family='"Liberation Sans", sans-serif' font-size="19.8" fill="#000">bitscore</text>
<path d="M716.4 1219.1L720.0 1222.9L716.4 1226.7L712.8 1222.9Z" fill="#F8766D"/>
<text transform="translate(734.0,1231.3) scale(0.96,1)" font-family='"Liberation Sans", sans-serif' font-size="17" fill="#1a1a1a">minus</text>
<path d="M716.4 1247.5L720.0 1251.3L716.4 1255.1L712.8 1251.3Z" fill="#00BFC4"/>
<text transform="translate(734.0,1259.7) scale(0.96,1)" font-family='"Liberation Sans", sans-serif' font-size="17" fill="#1a1a1a">plus</text>
<path d="M372.3 1233.7 L374.5 1234.5 L376.4 1232.6 L383.4 1227.6 L387.2 1222.8 L396.3 1212.7 L403.3 1203.8 L411.0 1193.8 L418.6 1192.8 L422.4 1183.4 L429.6 1179.2 L434.2 1170.0 L434.6 1168.7 L439.8 1159.2 L447.1 1148.8 L455.5 1140.4 L465.1 1132.7 L467.0 1127.1 L474.5 1116.4 L480.4 1111.4 L483.4 1105.5 L492.5 1096.3 L497.9 1088.2 L505.2 1078.8 L510.0 1074.0 L514.0 1066.0 L520.3 1058.7 L528.4 1049.6 L534.4 1042.5 L540.5 1034.5 L546.7 1028.2 L551.5 1023.4 L557.2 1015.0 L558.7 1008.1 L555.0 1007.1 L552.4 1010.4 L547.9 1017.8 L541.6 1024.0 L534.6 1032.1 L526.6 1041.0 L521.5 1048.2 L515.4 1054.3 L508.6 1063.1 L502.5 1072.3 L494.3 1082.5 L487.3 1090.5 L482.8 1096.8 L475.6 1104.9 L465.6 1117.1 L458.6 1126.0 L451.5 1135.1 L444.4 1144.2 L436.2 1154.5 L428.2 1162.5 L420.8 1172.8 L416.7 1177.9 L411.7 1184.9 L402.6 1196.1 L397.5 1202.2 L391.5 1209.2 L383.5 1220.3 L380.4 1224.4 L374.2 1231.5 L372.3 1233.7Z" fill="#00BFC4" stroke="#00BFC4" stroke-width="1" stroke-linejoin="round"/>
<path d="M374.0 1230.6L377.7 1234.5L374.0 1238.4L370.3 1234.5Z" fill="#00BFC4"/>
<path d="M375.4 1229.1L379.1 1233.0L375.4 1236.9L371.7 1233.0Z" fill="#00BFC4"/>
<path d="M378.6 1227.3L382.3 1231.2L378.6 1235.1L374.9 1231.2Z" fill="#00BFC4"/>
<path d="M380.5 1225.2L384.2 1229.1L380.5 1233.0L376.8 1229.1Z" fill="#00BFC4"/>
<path d="M383.0 1223.7L386.7 1227.6L383.0 1231.5L379.3 1227.6Z" fill="#00BFC4"/>
<path d="M384.5 1222.6L388.2 1226.5L384.5 1230.4L380.8 1226.5Z" fill="#F8766D"/>
<path d="M386.7 1220.3L390.4 1224.2L386.7 1228.1L383.0 1224.2Z" fill="#F8766D"/>
<path d="M389.5 1216.5L393.2 1220.4L389.5 1224.3L385.8 1220.4Z" fill="#00BFC4"/>
<path d="M390.3 1215.3L394.0 1219.2L390.3 1223.1L386.6 1219.2Z" fill="#F8766D"/>
<path d="M392.4 1211.9L396.1 1215.8L392.4 1219.7L388.7 1215.8Z" fill="#00BFC4"/>
<path d="M395.0 1210.2L398.7 1214.1L395.0 1218.0L391.3 1214.1Z" fill="#00BFC4"/>
<path d="M396.5 1208.0L400.2 1211.9L396.5 1215.8L392.8 1211.9Z" fill="#00BFC4"/>
<path d="M400.0 1204.2L403.7 1208.1L400.0 1212.0L396.3 1208.1Z" fill="#00BFC4"/>
<path d="M402.3 1200.9L406.0 1204.8L402.3 1208.7L398.6 1204.8Z" fill="#F8766D"/>
<path d="M403.9 1199.5L407.6 1203.4L403.9 1207.3L400.2 1203.4Z" fill="#00BFC4"/>
<path d="M405.8 1197.1L409.5 1201.0L405.8 1204.9L402.1 1201.0Z" fill="#00BFC4"/>
<path d="M406.9 1194.9L410.6 1198.8L406.9 1202.7L403.2 1198.8Z" fill="#00BFC4"/>
<path d="M408.6 1192.6L412.3 1196.5L408.6 1200.4L404.9 1196.5Z" fill="#00BFC4"/>
<path d="M409.7 1190.9L413.4 1194.8L409.7 1198.7L406.0 1194.8Z" fill="#00BFC4"/>
<path d="M411.7 1189.4L415.4 1193.3L411.7 1197.2L408.0 1193.3Z" fill="#F8766D"/>
<path d="M415.6 1189.3L419.3 1193.2L415.6 1197.1L411.9 1193.2Z" fill="#00BFC4"/>
<path d="M418.2 1188.9L421.9 1192.8L418.2 1196.7L414.5 1192.8Z" fill="#F8766D"/>
<path d="M420.2 1185.6L423.9 1189.5L420.2 1193.4L416.5 1189.5Z" fill="#F8766D"/>
<path d="M420.8 1182.4L424.5 1186.3L420.8 1190.2L417.1 1186.3Z" fill="#F8766D"/>
<path d="M422.1 1181.2L425.8 1185.1L422.1 1189.0L418.4 1185.1Z" fill="#00BFC4"/>
<path d="M423.6 1178.1L427.3 1182.0L423.6 1185.9L419.9 1182.0Z" fill="#00BFC4"/>
<path d="M427.8 1176.0L431.5 1179.9L427.8 1183.8L424.1 1179.9Z" fill="#F8766D"/>
<path d="M430.2 1174.0L433.9 1177.9L430.2 1181.8L426.5 1177.9Z" fill="#00BFC4"/>
<path d="M431.4 1170.4L435.1 1174.3L431.4 1178.2L427.7 1174.3Z" fill="#00BFC4"/>
<path d="M433.8 1168.2L437.5 1172.1L433.8 1176.0L430.1 1172.1Z" fill="#00BFC4"/>
<path d="M434.2 1164.5L437.9 1168.4L434.2 1172.3L430.5 1168.4Z" fill="#F8766D"/>
<path d="M436.7 1161.1L440.4 1165.0L436.7 1168.9L433.0 1165.0Z" fill="#00BFC4"/>
<path d="M437.5 1158.7L441.2 1162.6L437.5 1166.5L433.8 1162.6Z" fill="#00BFC4"/>
<path d="M439.7 1156.4L443.4 1160.3L439.7 1164.2L436.0 1160.3Z" fill="#00BFC4"/>
<path d="M441.6 1152.8L445.3 1156.7L441.6 1160.6L437.9 1156.7Z" fill="#00BFC4"/>
<path d="M444.0 1149.3L447.7 1153.2L444.0 1157.1L440.3 1153.2Z" fill="#F8766D"/>
<path d="M446.2 1145.7L449.9 1149.6L446.2 1153.5L442.5 1149.6Z" fill="#00BFC4"/>
<path d="M449.1 1143.9L452.8 1147.8L449.1 1151.7L445.4 1147.8Z" fill="#00BFC4"/>
<path d="M451.5 1140.8L455.2 1144.7L451.5 1148.6L447.8 1144.7Z" fill="#F8766D"/>
<path d="M453.0 1139.4L456.7 1143.3L453.0 1147.2L449.3 1143.3Z" fill="#00BFC4"/>
<path d="M455.8 1135.9L459.5 1139.8L455.8 1143.7L452.1 1139.8Z" fill="#F8766D"/>
<path d="M458.4 1133.8L462.1 1137.7L458.4 1141.6L454.7 1137.7Z" fill="#F8766D"/>
<path d="M461.1 1131.8L464.8 1135.7L461.1 1139.6L457.4 1135.7Z" fill="#F8766D"/>
<path d="M463.4 1130.8L467.1 1134.7L463.4 1138.6L459.7 1134.7Z" fill="#00BFC4"/>
<path d="M465.4 1126.6L469.1 1130.5L465.4 1134.4L461.7 1130.5Z" fill="#F8766D"/>
<path d="M466.2 1124.5L469.9 1128.4L466.2 1132.3L462.5 1128.4Z" fill="#F8766D"/>
<path d="M467.7 1122.5L471.4 1126.4L467.7 1130.3L464.0 1126.4Z" fill="#F8766D"/>
<path d="M469.4 1119.0L473.1 1122.9L469.4 1126.8L465.7 1122.9Z" fill="#F8766D"/>
<path d="M471.8 1117.1L475.5 1121.0L471.8 1124.9L468.1 1121.0Z" fill="#00BFC4"/>
<path d="M472.7 1115.1L476.4 1119.0L472.7 1122.9L469.0 1119.0Z" fill="#00BFC4"/>
<path d="M474.3 1113.2L478.0 1117.1L474.3 1121.0L470.6 1117.1Z" fill="#00BFC4"/>
<path d="M476.5 1111.2L480.2 1115.1L476.5 1119.0L472.8 1115.1Z" fill="#F8766D"/>
<path d="M479.4 1109.2L483.1 1113.1L479.4 1117.0L475.7 1113.1Z" fill="#00BFC4"/>
<path d="M481.1 1105.9L484.8 1109.8L481.1 1113.7L477.4 1109.8Z" fill="#F8766D"/>
<path d="M482.7 1102.4L486.4 1106.3L482.7 1110.2L479.0 1106.3Z" fill="#F8766D"/>
<path d="M484.6 1100.2L488.3 1104.1L484.6 1108.0L480.9 1104.1Z" fill="#F8766D"/>
<path d="M487.0 1098.4L490.7 1102.3L487.0 1106.2L483.3 1102.3Z" fill="#00BFC4"/>
<path d="M489.9 1096.1L493.6 1100.0L489.9 1103.9L486.2 1100.0Z" fill="#F8766D"/>
<path d="M491.4 1094.2L495.1 1098.1L491.4 1102.0L487.7 1098.1Z" fill="#00BFC4"/>
<path d="M493.5 1090.9L497.2 1094.8L493.5 1098.7L489.8 1094.8Z" fill="#F8766D"/>
<path d="M495.2 1088.0L498.9 1091.9L495.2 1095.8L491.5 1091.9Z" fill="#F8766D"/>
<path d="M497.1 1084.5L500.8 1088.4L497.1 1092.3L493.4 1088.4Z" fill="#F8766D"/>
<path d="M500.1 1080.9L503.8 1084.8L500.1 1088.7L496.4 1084.8Z" fill="#00BFC4"/>
<path d="M503.0 1078.1L506.7 1082.0L503.0 1085.9L499.3 1082.0Z" fill="#00BFC4"/>
<path d="M503.8 1076.5L507.5 1080.4L503.8 1084.3L500.1 1080.4Z" fill="#00BFC4"/>
<path d="M506.7 1073.3L510.4 1077.2L506.7 1081.1L503.0 1077.2Z" fill="#F8766D"/>
<path d="M507.3 1071.9L511.0 1075.8L507.3 1079.7L503.6 1075.8Z" fill="#00BFC4"/>
<path d="M509.4 1069.8L513.1 1073.7L509.4 1077.6L505.7 1073.7Z" fill="#F8766D"/>
<path d="M511.9 1066.2L515.6 1070.1L511.9 1074.0L508.2 1070.1Z" fill="#00BFC4"/>
<path d="M513.2 1063.8L516.9 1067.7L513.2 1071.6L509.5 1067.7Z" fill="#00BFC4"/>
<path d="M515.4 1060.7L519.1 1064.6L515.4 1068.5L511.7 1064.6Z" fill="#F8766D"/>
<path d="M517.6 1057.7L521.3 1061.6L517.6 1065.5L513.9 1061.6Z" fill="#F8766D"/>
<path d="M519.8 1055.6L523.5 1059.5L519.8 1063.4L516.1 1059.5Z" fill="#F8766D"/>
<path d="M523.0 1052.6L526.7 1056.5L523.0 1060.4L519.3 1056.5Z" fill="#00BFC4"/>
<path d="M524.7 1049.8L528.4 1053.7L524.7 1057.6L521.0 1053.7Z" fill="#00BFC4"/>
<path d="M527.0 1046.0L530.7 1049.9L527.0 1053.8L523.3 1049.9Z" fill="#F8766D"/>
<path d="M528.5 1044.1L532.2 1048.0L528.5 1051.9L524.8 1048.0Z" fill="#F8766D"/>
<path d="M531.1 1043.0L534.8 1046.9L531.1 1050.8L527.4 1046.9Z" fill="#00BFC4"/>
<path d="M533.9 1040.3L537.6 1044.2L533.9 1048.1L530.2 1044.2Z" fill="#F8766D"/>
<path d="M535.9 1037.5L539.6 1041.4L535.9 1045.3L532.2 1041.4Z" fill="#F8766D"/>
<path d="M537.4 1034.5L541.1 1038.4L537.4 1042.3L533.7 1038.4Z" fill="#F8766D"/>
<path d="M538.6 1032.4L542.3 1036.3L538.6 1040.2L534.9 1036.3Z" fill="#00BFC4"/>
<path d="M542.4 1029.6L546.1 1033.5L542.4 1037.4L538.7 1033.5Z" fill="#F8766D"/>
<path d="M544.7 1027.1L548.4 1031.0L544.7 1034.9L541.0 1031.0Z" fill="#00BFC4"/>
<path d="M545.3 1025.3L549.0 1029.2L545.3 1033.1L541.6 1029.2Z" fill="#00BFC4"/>
<path d="M548.9 1022.3L552.6 1026.2L548.9 1030.1L545.2 1026.2Z" fill="#F8766D"/>
<path d="M552.0 1019.7L555.7 1023.6L552.0 1027.5L548.3 1023.6Z" fill="#F8766D"/>
<path d="M553.4 1016.6L557.1 1020.5L553.4 1024.4L549.7 1020.5Z" fill="#F8766D"/>
<path d="M555.2 1013.7L558.9 1017.6L555.2 1021.5L551.5 1017.6Z" fill="#F8766D"/>
<path d="M557.6 1010.3L561.3 1014.2L557.6 1018.1L553.9 1014.2Z" fill="#F8766D"/>
<path d="M558.1 1008.4L561.8 1012.3L558.1 1016.2L554.4 1012.3Z" fill="#F8766D"/>
<path d="M558.7 1005.0L562.4 1008.9L558.7 1012.8L555.0 1008.9Z" fill="#F8766D"/>
<path d="M556.4 1004.3L560.1 1008.2L556.4 1012.1L552.7 1008.2Z" fill="#00BFC4"/>
<path d="M553.9 1004.1L557.6 1008.0L553.9 1011.9L550.2 1008.0Z" fill="#00BFC4"/>
<path d="M552.0 1006.5L555.7 1010.4L552.0 1014.3L548.3 1010.4Z" fill="#00BFC4"/>
<path d="M549.8 1010.0L553.5 1013.9L549.8 1017.8L546.1 1013.9Z" fill="#00BFC4"/>
<path d="M548.6 1013.1L552.3 1017.0L548.6 1020.9L544.9 1017.0Z" fill="#F8766D"/>
<path d="M545.6 1015.3L549.3 1019.2L545.6 1023.1L541.9 1019.2Z" fill="#00BFC4"/>
<path d="M543.4 1018.2L547.1 1022.1L543.4 1026.0L539.7 1022.1Z" fill="#00BFC4"/>
<path d="M541.6 1020.3L545.3 1024.2L541.6 1028.1L537.9 1024.2Z" fill="#F8766D"/>
<path d="M539.0 1023.5L542.7 1027.4L539.0 1031.3L535.3 1027.4Z" fill="#00BFC4"/>
<path d="M535.9 1027.2L539.6 1031.1L535.9 1035.0L532.2 1031.1Z" fill="#00BFC4"/>
<path d="M533.7 1029.3L537.4 1033.2L533.7 1037.1L530.0 1033.2Z" fill="#00BFC4"/>
<path d="M532.0 1031.4L535.7 1035.3L532.0 1039.2L528.3 1035.3Z" fill="#00BFC4"/>
<path d="M529.8 1034.1L533.5 1038.0L529.8 1041.9L526.1 1038.0Z" fill="#00BFC4"/>
<path d="M527.0 1036.5L530.7 1040.4L527.0 1044.3L523.3 1040.4Z" fill="#00BFC4"/>
<path d="M526.4 1038.9L530.1 1042.8L526.4 1046.7L522.7 1042.8Z" fill="#F8766D"/>
<path d="M523.3 1041.3L527.0 1045.2L523.3 1049.1L519.6 1045.2Z" fill="#00BFC4"/>
<path d="M521.0 1043.5L524.7 1047.4L521.0 1051.3L517.3 1047.4Z" fill="#F8766D"/>
<path d="M519.1 1045.7L522.8 1049.6L519.1 1053.5L515.4 1049.6Z" fill="#00BFC4"/>
<path d="M517.4 1048.5L521.1 1052.4L517.4 1056.3L513.7 1052.4Z" fill="#00BFC4"/>
<path d="M515.2 1050.7L518.9 1054.6L515.2 1058.5L511.5 1054.6Z" fill="#00BFC4"/>
<path d="M513.1 1053.3L516.8 1057.2L513.1 1061.1L509.4 1057.2Z" fill="#F8766D"/>
<path d="M510.9 1056.8L514.6 1060.7L510.9 1064.6L507.2 1060.7Z" fill="#00BFC4"/>
<path d="M508.8 1059.5L512.5 1063.4L508.8 1067.3L505.1 1063.4Z" fill="#F8766D"/>
<path d="M506.4 1062.4L510.1 1066.3L506.4 1070.2L502.7 1066.3Z" fill="#00BFC4"/>
<path d="M504.7 1064.2L508.4 1068.1L504.7 1072.0L501.0 1068.1Z" fill="#00BFC4"/>
<path d="M503.0 1066.8L506.7 1070.7L503.0 1074.6L499.3 1070.7Z" fill="#00BFC4"/>
<path d="M501.2 1070.5L504.9 1074.4L501.2 1078.3L497.5 1074.4Z" fill="#00BFC4"/>
<path d="M499.0 1073.2L502.7 1077.1L499.0 1081.0L495.3 1077.1Z" fill="#00BFC4"/>
<path d="M495.8 1076.3L499.5 1080.2L495.8 1084.1L492.1 1080.2Z" fill="#00BFC4"/>
<path d="M494.9 1078.3L498.6 1082.2L494.9 1086.1L491.2 1082.2Z" fill="#00BFC4"/>
<path d="M492.0 1081.6L495.7 1085.5L492.0 1089.4L488.3 1085.5Z" fill="#00BFC4"/>
<path d="M489.8 1084.6L493.5 1088.5L489.8 1092.4L486.1 1088.5Z" fill="#00BFC4"/>
<path d="M486.8 1086.0L490.5 1089.9L486.8 1093.8L483.1 1089.9Z" fill="#F8766D"/>
<path d="M484.4 1090.1L488.1 1094.0L484.4 1097.9L480.7 1094.0Z" fill="#F8766D"/>
<path d="M482.5 1092.9L486.2 1096.8L482.5 1100.7L478.8 1096.8Z" fill="#00BFC4"/>
<path d="M480.4 1096.0L484.1 1099.9L480.4 1103.8L476.7 1099.9Z" fill="#00BFC4"/>
<path d="M477.0 1099.2L480.7 1103.1L477.0 1107.0L473.3 1103.1Z" fill="#00BFC4"/>
<path d="M475.3 1102.3L479.0 1106.2L475.3 1110.1L471.6 1106.2Z" fill="#00BFC4"/>
<path d="M472.3 1104.4L476.0 1108.3L472.3 1112.2L468.6 1108.3Z" fill="#F8766D"/>
<path d="M470.0 1107.0L473.7 1110.9L470.0 1114.8L466.3 1110.9Z" fill="#00BFC4"/>
<path d="M467.9 1110.1L471.6 1114.0L467.9 1117.9L464.2 1114.0Z" fill="#00BFC4"/>
<path d="M466.7 1113.2L470.4 1117.1L466.7 1121.0L463.0 1117.1Z" fill="#00BFC4"/>
<path d="M463.3 1116.4L467.0 1120.3L463.3 1124.2L459.6 1120.3Z" fill="#F8766D"/>
<path d="M462.3 1118.3L466.0 1122.2L462.3 1126.1L458.6 1122.2Z" fill="#00BFC4"/>
<path d="M459.5 1120.9L463.2 1124.8L459.5 1128.7L455.8 1124.8Z" fill="#F8766D"/>
<path d="M458.3 1122.8L462.0 1126.7L458.3 1130.6L454.6 1126.7Z" fill="#00BFC4"/>
<path d="M456.2 1125.6L459.9 1129.5L456.2 1133.4L452.5 1129.5Z" fill="#00BFC4"/>
<path d="M453.4 1128.7L457.1 1132.6L453.4 1136.5L449.7 1132.6Z" fill="#00BFC4"/>
<path d="M451.7 1130.5L455.4 1134.4L451.7 1138.3L448.0 1134.4Z" fill="#00BFC4"/>
<path d="M449.7 1132.8L453.4 1136.7L449.7 1140.6L446.0 1136.7Z" fill="#00BFC4"/>
<path d="M447.7 1136.3L451.4 1140.2L447.7 1144.1L444.0 1140.2Z" fill="#00BFC4"/>
<path d="M445.6 1139.8L449.3 1143.7L445.6 1147.6L441.9 1143.7Z" fill="#00BFC4"/>
<path d="M443.2 1141.5L446.9 1145.4L443.2 1149.3L439.5 1145.4Z" fill="#00BFC4"/>
<path d="M440.6 1144.1L444.3 1148.0L440.6 1151.9L436.9 1148.0Z" fill="#00BFC4"/>
<path d="M439.6 1146.3L443.3 1150.2L439.6 1154.1L435.9 1150.2Z" fill="#00BFC4"/>
<path d="M437.1 1149.3L440.8 1153.2L437.1 1157.1L433.4 1153.2Z" fill="#00BFC4"/>
<path d="M436.0 1152.0L439.7 1155.9L436.0 1159.8L432.3 1155.9Z" fill="#00BFC4"/>
<path d="M432.3 1154.1L436.0 1158.0L432.3 1161.9L428.6 1158.0Z" fill="#F8766D"/>
<path d="M430.8 1155.6L434.5 1159.5L430.8 1163.4L427.1 1159.5Z" fill="#00BFC4"/>
<path d="M428.1 1159.3L431.8 1163.2L428.1 1167.1L424.4 1163.2Z" fill="#F8766D"/>
<path d="M427.3 1161.0L431.0 1164.9L427.3 1168.8L423.6 1164.9Z" fill="#00BFC4"/>
<path d="M424.2 1164.3L427.9 1168.2L424.2 1172.1L420.5 1168.2Z" fill="#00BFC4"/>
<path d="M421.8 1166.6L425.5 1170.5L421.8 1174.4L418.1 1170.5Z" fill="#00BFC4"/>
<path d="M421.1 1168.8L424.8 1172.7L421.1 1176.6L417.4 1172.7Z" fill="#F8766D"/>
<path d="M418.6 1171.9L422.3 1175.8L418.6 1179.7L414.9 1175.8Z" fill="#00BFC4"/>
<path d="M416.6 1173.4L420.3 1177.3L416.6 1181.2L412.9 1177.3Z" fill="#00BFC4"/>
<path d="M414.8 1176.1L418.5 1180.0L414.8 1183.9L411.1 1180.0Z" fill="#00BFC4"/>
<path d="M413.0 1178.9L416.7 1182.8L413.0 1186.7L409.3 1182.8Z" fill="#F8766D"/>
<path d="M410.9 1181.1L414.6 1185.0L410.9 1188.9L407.2 1185.0Z" fill="#00BFC4"/>
<path d="M410.0 1184.3L413.7 1188.2L410.0 1192.1L406.3 1188.2Z" fill="#00BFC4"/>
<path d="M407.4 1185.5L411.1 1189.4L407.4 1193.3L403.7 1189.4Z" fill="#00BFC4"/>
<path d="M404.6 1188.7L408.3 1192.6L404.6 1196.5L400.9 1192.6Z" fill="#00BFC4"/>
<path d="M403.0 1190.6L406.7 1194.5L403.0 1198.4L399.3 1194.5Z" fill="#00BFC4"/>
<path d="M402.1 1192.6L405.8 1196.5L402.1 1200.4L398.4 1196.5Z" fill="#00BFC4"/>
<path d="M400.2 1195.5L403.9 1199.4L400.2 1203.3L396.5 1199.4Z" fill="#00BFC4"/>
<path d="M398.8 1197.5L402.5 1201.4L398.8 1205.3L395.1 1201.4Z" fill="#00BFC4"/>
<path d="M396.1 1200.2L399.8 1204.1L396.1 1208.0L392.4 1204.1Z" fill="#00BFC4"/>
<path d="M393.6 1203.2L397.3 1207.1L393.6 1211.0L389.9 1207.1Z" fill="#00BFC4"/>
<path d="M390.3 1205.5L394.0 1209.4L390.3 1213.3L386.6 1209.4Z" fill="#F8766D"/>
<path d="M389.9 1208.6L393.6 1212.5L389.9 1216.4L386.2 1212.5Z" fill="#00BFC4"/>
<path d="M386.7 1211.9L390.4 1215.8L386.7 1219.7L383.0 1215.8Z" fill="#00BFC4"/>
<path d="M384.1 1215.2L387.8 1219.1L384.1 1223.0L380.4 1219.1Z" fill="#00BFC4"/>
<path d="M383.1 1217.5L386.8 1221.4L383.1 1225.3L379.4 1221.4Z" fill="#00BFC4"/>
<path d="M380.8 1219.9L384.5 1223.8L380.8 1227.7L377.1 1223.8Z" fill="#F8766D"/>
<path d="M378.2 1222.5L381.9 1226.4L378.2 1230.3L374.5 1226.4Z" fill="#00BFC4"/>
<path d="M375.6 1225.0L379.3 1228.9L375.6 1232.8L371.9 1228.9Z" fill="#F8766D"/>
<path d="M374.6 1228.1L378.3 1232.0L374.6 1235.9L370.9 1232.0Z" fill="#F8766D"/>
<path d="M461.7 1123.1L465.4 1127.0L461.7 1130.9L458.0 1127.0Z" fill="#00BFC4"/>
<path d="M380.1 1221.8L383.8 1225.7L380.1 1229.6L376.4 1225.7Z" fill="#F8766D"/>
<path d="M426.8 1167.8L430.5 1171.7L426.8 1175.6L423.1 1171.7Z" fill="#00BFC4"/>
<path d="M412.8 1185.1L416.5 1189.0L412.8 1192.9L409.1 1189.0Z" fill="#00BFC4"/>
<path d="M469.7 1108.7L473.4 1112.6L469.7 1116.5L466.0 1112.6Z" fill="#F8766D"/>
<path d="M507.2 1064.8L510.9 1068.7L507.2 1072.6L503.5 1068.7Z" fill="#F8766D"/>
<path d="M399.5 1201.3L403.2 1205.2L399.5 1209.1L395.8 1205.2Z" fill="#00BFC4"/>
<path d="M450.9 1133.3L454.6 1137.2L450.9 1141.1L447.2 1137.2Z" fill="#00BFC4"/>
<path d="M498.0 1084.0L501.7 1087.9L498.0 1091.8L494.3 1087.9Z" fill="#00BFC4"/>
<path d="M418.4 1183.0L422.1 1186.9L418.4 1190.8L414.7 1186.9Z" fill="#F8766D"/>
<path d="M498.1 1078.8L501.8 1082.7L498.1 1086.6L494.4 1082.7Z" fill="#F8766D"/>
<path d="M529.9 1033.7L533.6 1037.6L529.9 1041.5L526.2 1037.6Z" fill="#00BFC4"/>
<path d="M508.3 1063.7L512.0 1067.6L508.3 1071.5L504.6 1067.6Z" fill="#F8766D"/>
<path d="M408.7 1192.6L412.4 1196.5L408.7 1200.4L405.0 1196.5Z" fill="#00BFC4"/>
<path d="M476.8 1101.9L480.5 1105.8L476.8 1109.7L473.1 1105.8Z" fill="#00BFC4"/>
<path d="M468.6 1118.7L472.3 1122.6L468.6 1126.5L464.9 1122.6Z" fill="#00BFC4"/>
<path d="M483.7 1094.0L487.4 1097.9L483.7 1101.8L480.0 1097.9Z" fill="#F8766D"/>
<path d="M530.5 1034.6L534.2 1038.5L530.5 1042.4L526.8 1038.5Z" fill="#F8766D"/>
<path d="M455.5 1127.9L459.2 1131.8L455.5 1135.7L451.8 1131.8Z" fill="#00BFC4"/>
<path d="M521.2 1053.4L524.9 1057.3L521.2 1061.2L517.5 1057.3Z" fill="#F8766D"/>
<path d="M424.9 1166.5L428.6 1170.4L424.9 1174.3L421.2 1170.4Z" fill="#F8766D"/>
<path d="M542.2 1025.7L545.9 1029.6L542.2 1033.5L538.5 1029.6Z" fill="#F8766D"/>
<path d="M534.0 1036.1L537.7 1040.0L534.0 1043.9L530.3 1040.0Z" fill="#00BFC4"/>
<path d="M498.1 1082.2L501.8 1086.1L498.1 1090.0L494.4 1086.1Z" fill="#F8766D"/>
<path d="M510.2 1066.0L513.9 1069.9L510.2 1073.8L506.5 1069.9Z" fill="#F8766D"/>
<path d="M493.4 1088.5L497.1 1092.4L493.4 1096.3L489.7 1092.4Z" fill="#00BFC4"/>
<path d="M553.7 1011.4L557.4 1015.3L553.7 1019.2L550.0 1015.3Z" fill="#F8766D"/>
<path d="M529.3 1038.7L533.0 1042.6L529.3 1046.5L525.6 1042.6Z" fill="#F8766D"/>
<path d="M394.7 1208.1L398.4 1212.0L394.7 1215.9L391.0 1212.0Z" fill="#F8766D"/>
<path d="M468.8 1118.2L472.5 1122.1L468.8 1126.0L465.1 1122.1Z" fill="#00BFC4"/>
<path d="M497.2 1075.3L500.9 1079.2L497.2 1083.1L493.5 1079.2Z" fill="#F8766D"/>
<path d="M526.6 1040.3L530.3 1044.2L526.6 1048.1L522.9 1044.2Z" fill="#00BFC4"/>
<path d="M511.6 1059.6L515.3 1063.5L511.6 1067.4L507.9 1063.5Z" fill="#00BFC4"/>
<path d="M509.9 1068.0L513.6 1071.9L509.9 1075.8L506.2 1071.9Z" fill="#00BFC4"/>
<path d="M384.8 1217.8L388.5 1221.7L384.8 1225.6L381.1 1221.7Z" fill="#00BFC4"/>
<path d="M412.8 1189.2L416.5 1193.1L412.8 1197.0L409.1 1193.1Z" fill="#00BFC4"/>
<path d="M396.4 1202.4L400.1 1206.3L396.4 1210.2L392.7 1206.3Z" fill="#00BFC4"/>
<path d="M486.0 1096.0L489.7 1099.9L486.0 1103.8L482.3 1099.9Z" fill="#00BFC4"/>
<path d="M519.5 1051.8L523.2 1055.7L519.5 1059.6L515.8 1055.7Z" fill="#F8766D"/>
<path d="M555.3 1005.7L559.0 1009.6L555.3 1013.5L551.6 1009.6Z" fill="#00BFC4"/>
<path d="M440.0 1154.9L443.7 1158.8L440.0 1162.7L436.3 1158.8Z" fill="#F8766D"/>
<path d="M529.7 1043.7L533.4 1047.6L529.7 1051.5L526.0 1047.6Z" fill="#F8766D"/>
<path d="M490.7 1085.9L494.4 1089.8L490.7 1093.7L487.0 1089.8Z" fill="#00BFC4"/>
<path d="M531.3 1035.9L535.0 1039.8L531.3 1043.7L527.6 1039.8Z" fill="#F8766D"/>
<path d="M451.1 1133.1L454.8 1137.0L451.1 1140.9L447.4 1137.0Z" fill="#00BFC4"/>
<path d="M462.8 1117.3L466.5 1121.2L462.8 1125.1L459.1 1121.2Z" fill="#F8766D"/>
<path d="M464.7 1124.9L468.4 1128.8L464.7 1132.7L461.0 1128.8Z" fill="#00BFC4"/>
<path d="M554.8 1005.3L558.5 1009.2L554.8 1013.1L551.1 1009.2Z" fill="#F8766D"/>
<path d="M555.3 1011.4L559.0 1015.3L555.3 1019.2L551.6 1015.3Z" fill="#F8766D"/>
<path d="M508.5 1068.2L512.2 1072.1L508.5 1076.0L504.8 1072.1Z" fill="#F8766D"/>
<path d="M547.5 1015.0L551.2 1018.9L547.5 1022.8L543.8 1018.9Z" fill="#00BFC4"/>
<path d="M474.0 1108.7L477.7 1112.6L474.0 1116.5L470.3 1112.6Z" fill="#00BFC4"/>
<path d="M396.3 1207.4L400.0 1211.3L396.3 1215.2L392.6 1211.3Z" fill="#00BFC4"/>
<path d="M377.1 1225.0L380.8 1228.9L377.1 1232.8L373.4 1228.9Z" fill="#00BFC4"/>
<path d="M452.2 1133.7L455.9 1137.6L452.2 1141.5L448.5 1137.6Z" fill="#00BFC4"/>
<path d="M449.9 1137.4L453.6 1141.3L449.9 1145.2L446.2 1141.3Z" fill="#F8766D"/>
<path d="M456.4 1128.5L460.1 1132.4L456.4 1136.3L452.7 1132.4Z" fill="#F8766D"/>
<path d="M520.4 1053.9L524.1 1057.8L520.4 1061.7L516.7 1057.8Z" fill="#F8766D"/>
<path d="M383.9 1220.9L387.6 1224.8L383.9 1228.7L380.2 1224.8Z" fill="#F8766D"/>
<path d="M486.4 1094.9L490.1 1098.8L486.4 1102.7L482.7 1098.8Z" fill="#F8766D"/>
<path d="M436.5 1153.8L440.2 1157.7L436.5 1161.6L432.8 1157.7Z" fill="#00BFC4"/>
<path d="M516.1 1056.9L519.8 1060.8L516.1 1064.7L512.4 1060.8Z" fill="#F8766D"/>
<path d="M419.4 1183.0L423.1 1186.9L419.4 1190.8L415.7 1186.9Z" fill="#00BFC4"/>
<path d="M468.6 1119.9L472.3 1123.8L468.6 1127.7L464.9 1123.8Z" fill="#F8766D"/>
<path d="M429.5 1161.2L433.2 1165.1L429.5 1169.0L425.8 1165.1Z" fill="#F8766D"/>
<path d="M457.4 1125.8L461.1 1129.7L457.4 1133.6L453.7 1129.7Z" fill="#00BFC4"/>
<path d="M426.5 1166.9L430.2 1170.8L426.5 1174.7L422.8 1170.8Z" fill="#F8766D"/>
<path d="M451.9 1131.5L455.6 1135.4L451.9 1139.3L448.2 1135.4Z" fill="#F8766D"/>
<path d="M422.2 1175.3L425.9 1179.2L422.2 1183.1L418.5 1179.2Z" fill="#00BFC4"/>
<path d="M465.7 1115.5L469.4 1119.4L465.7 1123.3L462.0 1119.4Z" fill="#F8766D"/>
<path d="M476.2 1103.3L479.9 1107.2L476.2 1111.1L472.5 1107.2Z" fill="#F8766D"/>
<path d="M481.4 1097.8L485.1 1101.7L481.4 1105.6L477.7 1101.7Z" fill="#00BFC4"/>
<path d="M499.2 1077.6L502.9 1081.5L499.2 1085.4L495.5 1081.5Z" fill="#F8766D"/>
<path d="M412.0 1185.3L415.7 1189.2L412.0 1193.1L408.3 1189.2Z" fill="#F8766D"/>
<path d="M488.9 1087.5L492.6 1091.4L488.9 1095.3L485.2 1091.4Z" fill="#00BFC4"/>
<path d="M502.2 1072.2L505.9 1076.1L502.2 1080.0L498.5 1076.1Z" fill="#00BFC4"/>
<path d="M425.6 1164.4L429.3 1168.3L425.6 1172.2L421.9 1168.3Z" fill="#00BFC4"/>
<path d="M415.4 1185.8L419.1 1189.7L415.4 1193.6L411.7 1189.7Z" fill="#00BFC4"/>
<path d="M494.5 1082.3L498.2 1086.2L494.5 1090.1L490.8 1086.2Z" fill="#F8766D"/>
<path d="M479.7 1108.0L483.4 1111.9L479.7 1115.8L476.0 1111.9Z" fill="#F8766D"/>
<path d="M543.8 1019.6L547.5 1023.5L543.8 1027.4L540.1 1023.5Z" fill="#00BFC4"/>
<path d="M428.9 1163.5L432.6 1167.4L428.9 1171.3L425.2 1167.4Z" fill="#F8766D"/>
<path d="M484.1 1091.9L487.8 1095.8L484.1 1099.7L480.4 1095.8Z" fill="#00BFC4"/>
<path d="M423.5 1173.3L427.2 1177.2L423.5 1181.1L419.8 1177.2Z" fill="#F8766D"/>
<path d="M374.3 1229.2L378.0 1233.1L374.3 1237.0L370.6 1233.1Z" fill="#00BFC4"/>
<path d="M398.7 1202.1L402.4 1206.0L398.7 1209.9L395.0 1206.0Z" fill="#F8766D"/>
<path d="M508.5 1069.3L512.2 1073.2L508.5 1077.1L504.8 1073.2Z" fill="#F8766D"/>
<path d="M417.7 1184.4L421.4 1188.3L417.7 1192.2L414.0 1188.3Z" fill="#00BFC4"/>
<path d="M423.7 1176.9L427.4 1180.8L423.7 1184.7L420.0 1180.8Z" fill="#00BFC4"/>
<path d="M478.0 1099.5L481.7 1103.4L478.0 1107.3L474.3 1103.4Z" fill="#F8766D"/>
<path d="M540.4 1028.3L544.1 1032.2L540.4 1036.1L536.7 1032.2Z" fill="#F8766D"/>
<path d="M383.6 1220.0L387.3 1223.9L383.6 1227.8L379.9 1223.9Z" fill="#00BFC4"/>
<path d="M480.0 1106.0L483.7 1109.9L480.0 1113.8L476.3 1109.9Z" fill="#F8766D"/>
<path d="M417.2 1183.6L420.9 1187.5L417.2 1191.4L413.5 1187.5Z" fill="#F8766D"/>
<path d="M422.8 1168.7L426.5 1172.6L422.8 1176.5L419.1 1172.6Z" fill="#F8766D"/>
<path d="M520.1 1048.3L523.8 1052.2L520.1 1056.1L516.4 1052.2Z" fill="#F8766D"/>
<path d="M516.3 1054.5L520.0 1058.4L516.3 1062.3L512.6 1058.4Z" fill="#F8766D"/>
<path d="M463.2 1129.3L466.9 1133.2L463.2 1137.1L459.5 1133.2Z" fill="#00BFC4"/>
<path d="M539.7 1025.0L543.4 1028.9L539.7 1032.8L536.0 1028.9Z" fill="#00BFC4"/>
<path d="M441.4 1152.5L445.1 1156.4L441.4 1160.3L437.7 1156.4Z" fill="#F8766D"/>
<path d="M390.3 1214.6L394.0 1218.5L390.3 1222.4L386.6 1218.5Z" fill="#00BFC4"/>
<path d="M540.3 1026.9L544.0 1030.8L540.3 1034.7L536.6 1030.8Z" fill="#F8766D"/>
<path d="M532.2 1035.1L535.9 1039.0L532.2 1042.9L528.5 1039.0Z" fill="#00BFC4"/>
<path d="M479.4 1104.3L483.1 1108.2L479.4 1112.1L475.7 1108.2Z" fill="#F8766D"/>
<path d="M411.6 1186.8L415.3 1190.7L411.6 1194.6L407.9 1190.7Z" fill="#00BFC4"/>
<path d="M409.0 1190.4L412.7 1194.3L409.0 1198.2L405.3 1194.3Z" fill="#00BFC4"/>
<path d="M476.7 1106.1L480.4 1110.0L476.7 1113.9L473.0 1110.0Z" fill="#F8766D"/>
<path d="M430.7 1161.8L434.4 1165.7L430.7 1169.6L427.0 1165.7Z" fill="#F8766D"/>
<path d="M451.1 1136.2L454.8 1140.1L451.1 1144.0L447.4 1140.1Z" fill="#00BFC4"/>
<path d="M504.3 1070.7L508.0 1074.6L504.3 1078.5L500.6 1074.6Z" fill="#F8766D"/>
<path d="M431.6 1167.9L435.3 1171.8L431.6 1175.7L427.9 1171.8Z" fill="#00BFC4"/>
<path d="M547.4 1020.2L551.1 1024.1L547.4 1028.0L543.7 1024.1Z" fill="#F8766D"/>
<path d="M484.9 1096.4L488.6 1100.3L484.9 1104.2L481.2 1100.3Z" fill="#00BFC4"/>
<path d="M476.5 1101.6L480.2 1105.5L476.5 1109.4L472.8 1105.5Z" fill="#00BFC4"/>
<path d="M458.2 1123.5L461.9 1127.4L458.2 1131.3L454.5 1127.4Z" fill="#00BFC4"/>
<path d="M381.3 1223.2L385.0 1227.1L381.3 1231.0L377.6 1227.1Z" fill="#00BFC4"/>
<path d="M416.3 1187.5L420.0 1191.4L416.3 1195.3L412.6 1191.4Z" fill="#F8766D"/>
<path d="M532.4 1030.9L536.1 1034.8L532.4 1038.7L528.7 1034.8Z" fill="#00BFC4"/>
<path d="M512.0 1062.7L515.7 1066.6L512.0 1070.5L508.3 1066.6Z" fill="#00BFC4"/>
<path d="M465.8 1124.1L469.5 1128.0L465.8 1131.9L462.1 1128.0Z" fill="#00BFC4"/>
<path d="M399.3 1199.6L403.0 1203.5L399.3 1207.4L395.6 1203.5Z" fill="#F8766D"/>
<path d="M415.4 1181.2L419.1 1185.1L415.4 1189.0L411.7 1185.1Z" fill="#F8766D"/>
<path d="M436.9 1152.6L440.6 1156.5L436.9 1160.4L433.2 1156.5Z" fill="#F8766D"/>
<path d="M419.0 1179.6L422.7 1183.5L419.0 1187.4L415.3 1183.5Z" fill="#F8766D"/>
<path d="M487.9 1090.4L491.6 1094.3L487.9 1098.2L484.2 1094.3Z" fill="#F8766D"/>
<path d="M417.3 1180.1L421.0 1184.0L417.3 1187.9L413.6 1184.0Z" fill="#F8766D"/>
<path d="M452.9 1129.5L456.6 1133.4L452.9 1137.3L449.2 1133.4Z" fill="#00BFC4"/>
<path d="M428.9 1165.5L432.6 1169.4L428.9 1173.3L425.2 1169.4Z" fill="#F8766D"/>
<path d="M427.4 1160.5L431.1 1164.4L427.4 1168.3L423.7 1164.4Z" fill="#00BFC4"/>
<path d="M514.7 1060.0L518.4 1063.9L514.7 1067.8L511.0 1063.9Z" fill="#F8766D"/>
<path d="M385.6 1220.3L389.3 1224.2L385.6 1228.1L381.9 1224.2Z" fill="#F8766D"/>
<path d="M500.3 1077.3L504.0 1081.2L500.3 1085.1L496.6 1081.2Z" fill="#F8766D"/>
<path d="M536.7 1029.5L540.4 1033.4L536.7 1037.3L533.0 1033.4Z" fill="#00BFC4"/>
<path d="M525.1 1042.7L528.8 1046.6L525.1 1050.5L521.4 1046.6Z" fill="#F8766D"/>
<path d="M541.0 1028.8L544.7 1032.7L541.0 1036.6L537.3 1032.7Z" fill="#F8766D"/>
<path d="M396.5 1205.5L400.2 1209.4L396.5 1213.3L392.8 1209.4Z" fill="#00BFC4"/>
<path d="M424.9 1176.9L428.6 1180.8L424.9 1184.7L421.2 1180.8Z" fill="#00BFC4"/>
<path d="M420.2 1177.5L423.9 1181.4L420.2 1185.3L416.5 1181.4Z" fill="#00BFC4"/>
<path d="M408.4 1189.6L412.1 1193.5L408.4 1197.4L404.7 1193.5Z" fill="#F8766D"/>
<path d="M541.5 1021.4L545.2 1025.3L541.5 1029.2L537.8 1025.3Z" fill="#00BFC4"/>
<path d="M390.3 1209.3L394.0 1213.2L390.3 1217.1L386.6 1213.2Z" fill="#F8766D"/>
<path d="M471.9 1107.1L475.6 1111.0L471.9 1114.9L468.2 1111.0Z" fill="#00BFC4"/>
<path d="M485.0 1094.4L488.7 1098.3L485.0 1102.2L481.3 1098.3Z" fill="#F8766D"/>
<path d="M543.0 1024.8L546.7 1028.7L543.0 1032.6L539.3 1028.7Z" fill="#F8766D"/>
<path d="M497.0 1084.0L500.7 1087.9L497.0 1091.8L493.3 1087.9Z" fill="#F8766D"/>
<path d="M427.4 1171.4L431.1 1175.3L427.4 1179.2L423.7 1175.3Z" fill="#00BFC4"/>
<path d="M437.9 1158.7L441.6 1162.6L437.9 1166.5L434.2 1162.6Z" fill="#F8766D"/>
<path d="M419.2 1186.0L422.9 1189.9L419.2 1193.8L415.5 1189.9Z" fill="#00BFC4"/>
<path d="M417.2 1177.4L420.9 1181.3L417.2 1185.2L413.5 1181.3Z" fill="#F8766D"/>
<path d="M433.9 1160.9L437.6 1164.8L433.9 1168.7L430.2 1164.8Z" fill="#00BFC4"/>
<path d="M528.5 1041.9L532.2 1045.8L528.5 1049.7L524.8 1045.8Z" fill="#F8766D"/>
<path d="M492.8 1080.8L496.5 1084.7L492.8 1088.6L489.1 1084.7Z" fill="#00BFC4"/>
<path d="M514.5 1055.7L518.2 1059.6L514.5 1063.5L510.8 1059.6Z" fill="#00BFC4"/>
<path d="M419.1 1176.7L422.8 1180.6L419.1 1184.5L415.4 1180.6Z" fill="#F8766D"/>
<path d="M421.4 1178.5L425.1 1182.4L421.4 1186.3L417.7 1182.4Z" fill="#F8766D"/>
<path d="M390.5 1209.6L394.2 1213.5L390.5 1217.4L386.8 1213.5Z" fill="#00BFC4"/>
<path d="M529.6 1043.0L533.3 1046.9L529.6 1050.8L525.9 1046.9Z" fill="#00BFC4"/>
<path d="M557.6 1006.4L561.3 1010.3L557.6 1014.2L553.9 1010.3Z" fill="#F8766D"/>
<path d="M424.6 1168.5L428.3 1172.4L424.6 1176.3L420.9 1172.4Z" fill="#F8766D"/>
<path d="M422.3 1173.0L426.0 1176.9L422.3 1180.8L418.6 1176.9Z" fill="#F8766D"/>
<path d="M530.4 1038.4L534.1 1042.3L530.4 1046.2L526.7 1042.3Z" fill="#F8766D"/>
<path d="M492.6 1085.8L496.3 1089.7L492.6 1093.6L488.9 1089.7Z" fill="#00BFC4"/>
<path d="M529.2 1035.1L532.9 1039.0L529.2 1042.9L525.5 1039.0Z" fill="#F8766D"/>
<path d="M397.6 1203.6L401.3 1207.5L397.6 1211.4L393.9 1207.5Z" fill="#F8766D"/>
<path d="M419.2 1173.8L422.9 1177.7L419.2 1181.6L415.5 1177.7Z" fill="#F8766D"/>
<path d="M507.0 1070.8L510.7 1074.7L507.0 1078.6L503.3 1074.7Z" fill="#00BFC4"/>
<path d="M490.7 1090.2L494.4 1094.1L490.7 1098.0L487.0 1094.1Z" fill="#F8766D"/>
<path d="M415.3 1187.9L419.0 1191.8L415.3 1195.7L411.6 1191.8Z" fill="#F8766D"/>
<path d="M433.1 1158.7L436.8 1162.6L433.1 1166.5L429.4 1162.6Z" fill="#00BFC4"/>
<path d="M526.7 1043.8L530.4 1047.7L526.7 1051.6L523.0 1047.7Z" fill="#F8766D"/>
<path d="M436.2 1150.9L439.9 1154.8L436.2 1158.7L432.5 1154.8Z" fill="#00BFC4"/>
<path d="M510.9 1057.2L514.6 1061.1L510.9 1065.0L507.2 1061.1Z" fill="#F8766D"/>
<path d="M486.4 1094.6L490.1 1098.5L486.4 1102.4L482.7 1098.5Z" fill="#00BFC4"/>
<path d="M392.8 1204.3L396.5 1208.2L392.8 1212.1L389.1 1208.2Z" fill="#00BFC4"/>
<path d="M499.4 1077.9L503.1 1081.8L499.4 1085.7L495.7 1081.8Z" fill="#00BFC4"/>
<path d="M377.5 1226.6L381.2 1230.5L377.5 1234.4L373.8 1230.5Z" fill="#F8766D"/>
<path d="M462.6 1128.8L466.3 1132.7L462.6 1136.6L458.9 1132.7Z" fill="#F8766D"/>
<path d="M418.7 1185.0L422.4 1188.9L418.7 1192.8L415.0 1188.9Z" fill="#00BFC4"/>
<path d="M477.2 1108.7L480.9 1112.6L477.2 1116.5L473.5 1112.6Z" fill="#00BFC4"/>
<path d="M519.1 1054.0L522.8 1057.9L519.1 1061.8L515.4 1057.9Z" fill="#F8766D"/>
<path d="M398.1 1199.1L401.8 1203.0L398.1 1206.9L394.4 1203.0Z" fill="#F8766D"/>
<path d="M497.3 1085.1L501.0 1089.0L497.3 1092.9L493.6 1089.0Z" fill="#F8766D"/>
<path d="M547.3 1015.2L551.0 1019.1L547.3 1023.0L543.6 1019.1Z" fill="#F8766D"/>
<path d="M401.1 1196.2L404.8 1200.1L401.1 1204.0L397.4 1200.1Z" fill="#00BFC4"/>
<path d="M543.3 1025.4L547.0 1029.3L543.3 1033.2L539.6 1029.3Z" fill="#00BFC4"/>
<path d="M486.2 1091.2L489.9 1095.1L486.2 1099.0L482.5 1095.1Z" fill="#F8766D"/>
<path d="M484.6 1096.0L488.3 1099.9L484.6 1103.8L480.9 1099.9Z" fill="#F8766D"/>
<path d="M447.1 1143.1L450.8 1147.0L447.1 1150.9L443.4 1147.0Z" fill="#00BFC4"/>
<path d="M379.2 1224.4L382.9 1228.3L379.2 1232.2L375.5 1228.3Z" fill="#F8766D"/>
<path d="M544.3 1025.8L548.0 1029.7L544.3 1033.6L540.6 1029.7Z" fill="#F8766D"/>
<path d="M501.2 1071.7L504.9 1075.6L501.2 1079.5L497.5 1075.6Z" fill="#00BFC4"/>
<path d="M422.7 1171.1L426.4 1175.0L422.7 1178.9L419.0 1175.0Z" fill="#F8766D"/>
<path d="M432.7 1161.7L436.4 1165.6L432.7 1169.5L429.0 1165.6Z" fill="#F8766D"/>
<path d="M507.9 1063.1L511.6 1067.0L507.9 1070.9L504.2 1067.0Z" fill="#F8766D"/>
<path d="M528.1 1043.8L531.8 1047.7L528.1 1051.6L524.4 1047.7Z" fill="#F8766D"/>
<path d="M393.0 1209.4L396.7 1213.3L393.0 1217.2L389.3 1213.3Z" fill="#F8766D"/>
<path d="M543.7 1018.8L547.4 1022.7L543.7 1026.6L540.0 1022.7Z" fill="#00BFC4"/>
<path d="M431.3 1162.9L435.0 1166.8L431.3 1170.7L427.6 1166.8Z" fill="#F8766D"/>
<path d="M437.8 1152.5L441.5 1156.4L437.8 1160.3L434.1 1156.4Z" fill="#00BFC4"/>
<path d="M457.4 1134.4L461.1 1138.3L457.4 1142.2L453.7 1138.3Z" fill="#F8766D"/>
<path d="M517.5 1055.6L521.2 1059.5L517.5 1063.4L513.8 1059.5Z" fill="#F8766D"/>
<path d="M506.2 1072.9L509.9 1076.8L506.2 1080.7L502.5 1076.8Z" fill="#00BFC4"/>
<path d="M463.7 1119.1L467.4 1123.0L463.7 1126.9L460.0 1123.0Z" fill="#F8766D"/>
<path d="M546.5 1021.6L550.2 1025.5L546.5 1029.4L542.8 1025.5Z" fill="#F8766D"/>
<path d="M510.4 1058.9L514.1 1062.8L510.4 1066.7L506.7 1062.8Z" fill="#00BFC4"/>
<path d="M532.4 1040.3L536.1 1044.2L532.4 1048.1L528.7 1044.2Z" fill="#00BFC4"/>
<path d="M557.4 1007.2L561.1 1011.1L557.4 1015.0L553.7 1011.1Z" fill="#F8766D"/>
<path d="M551.3 1013.9L555.0 1017.8L551.3 1021.7L547.6 1017.8Z" fill="#F8766D"/>
<path d="M432.7 1166.7L436.4 1170.6L432.7 1174.5L429.0 1170.6Z" fill="#00BFC4"/>
<path d="M405.2 1191.0L408.9 1194.9L405.2 1198.8L401.5 1194.9Z" fill="#00BFC4"/>
<path d="M554.9 1004.1L558.6 1008.0L554.9 1011.9L551.2 1008.0Z" fill="#F8766D"/>
<path d="M403.9 1197.9L407.6 1201.8L403.9 1205.7L400.2 1201.8Z" fill="#F8766D"/>
<path d="M464.1 1118.9L467.8 1122.8L464.1 1126.7L460.4 1122.8Z" fill="#00BFC4"/>
<path d="M496.3 1081.6L500.0 1085.5L496.3 1089.4L492.6 1085.5Z" fill="#00BFC4"/>
<path d="M549.2 1016.7L552.9 1020.6L549.2 1024.5L545.5 1020.6Z" fill="#F8766D"/>
<path d="M478.4 1101.7L482.1 1105.6L478.4 1109.5L474.7 1105.6Z" fill="#F8766D"/>
<path d="M476.4 1101.8L480.1 1105.7L476.4 1109.6L472.7 1105.7Z" fill="#00BFC4"/>
<path d="M498.4 1080.4L502.1 1084.3L498.4 1088.2L494.7 1084.3Z" fill="#00BFC4"/>
<path d="M495.0 1080.5L498.7 1084.4L495.0 1088.3L491.3 1084.4Z" fill="#F8766D"/>
<path d="M515.9 1054.8L519.6 1058.7L515.9 1062.6L512.2 1058.7Z" fill="#00BFC4"/>
<path d="M415.7 1185.1L419.4 1189.0L415.7 1192.9L412.0 1189.0Z" fill="#F8766D"/>
<path d="M522.2 1049.4L525.9 1053.3L522.2 1057.2L518.5 1053.3Z" fill="#00BFC4"/>
<path d="M554.6 1011.6L558.3 1015.5L554.6 1019.4L550.9 1015.5Z" fill="#00BFC4"/>
<path d="M388.1 1217.0L391.8 1220.9L388.1 1224.8L384.4 1220.9Z" fill="#F8766D"/>
<path d="M437.2 1151.9L440.9 1155.8L437.2 1159.7L433.5 1155.8Z" fill="#00BFC4"/>
<path d="M408.8 1184.9L412.5 1188.8L408.8 1192.7L405.1 1188.8Z" fill="#00BFC4"/>
<path d="M420.0 1173.2L423.7 1177.1L420.0 1181.0L416.3 1177.1Z" fill="#F8766D"/>
<path d="M514.4 1054.6L518.1 1058.5L514.4 1062.4L510.7 1058.5Z" fill="#F8766D"/>
<path d="M532.4 1030.9L536.1 1034.8L532.4 1038.7L528.7 1034.8Z" fill="#00BFC4"/>
<path d="M434.8 1152.2L438.5 1156.1L434.8 1160.0L431.1 1156.1Z" fill="#F8766D"/>
<path d="M426.1 1162.5L429.8 1166.4L426.1 1170.3L422.4 1166.4Z" fill="#F8766D"/>
<path d="M516.4 1055.7L520.1 1059.6L516.4 1063.5L512.7 1059.6Z" fill="#00BFC4"/>
<path d="M479.1 1102.4L482.8 1106.3L479.1 1110.2L475.4 1106.3Z" fill="#F8766D"/>
<path d="M439.9 1152.8L443.6 1156.7L439.9 1160.6L436.2 1156.7Z" fill="#F8766D"/>
<path d="M507.1 1072.8L510.8 1076.7L507.1 1080.6L503.4 1076.7Z" fill="#F8766D"/>
<path d="M460.6 1120.4L464.3 1124.3L460.6 1128.2L456.9 1124.3Z" fill="#00BFC4"/>
<path d="M512.2 1063.4L515.9 1067.3L512.2 1071.2L508.5 1067.3Z" fill="#F8766D"/>
<path d="M546.4 1022.5L550.1 1026.4L546.4 1030.3L542.7 1026.4Z" fill="#F8766D"/>
<path d="M546.1 1021.2L549.8 1025.1L546.1 1029.0L542.4 1025.1Z" fill="#F8766D"/>
<path d="M409.7 1186.1L413.4 1190.0L409.7 1193.9L406.0 1190.0Z" fill="#F8766D"/>
<path d="M551.9 1010.0L555.6 1013.9L551.9 1017.8L548.2 1013.9Z" fill="#F8766D"/>
<path d="M391.5 1207.1L395.2 1211.0L391.5 1214.9L387.8 1211.0Z" fill="#F8766D"/>
<path d="M554.5 1009.5L558.2 1013.4L554.5 1017.3L550.8 1013.4Z" fill="#F8766D"/>
<path d="M539.9 1028.9L543.6 1032.8L539.9 1036.7L536.2 1032.8Z" fill="#F8766D"/>
<path d="M553.8 1013.5L557.5 1017.4L553.8 1021.3L550.1 1017.4Z" fill="#00BFC4"/>
<path d="M536.7 1031.4L540.4 1035.3L536.7 1039.2L533.0 1035.3Z" fill="#F8766D"/>
<path d="M500.1 1074.2L503.8 1078.1L500.1 1082.0L496.4 1078.1Z" fill="#F8766D"/>
<path d="M419.7 1171.6L423.4 1175.5L419.7 1179.4L416.0 1175.5Z" fill="#F8766D"/>
<path d="M428.9 1160.9L432.6 1164.8L428.9 1168.7L425.2 1164.8Z" fill="#F8766D"/>
<path d="M396.8 1200.2L400.5 1204.1L396.8 1208.0L393.1 1204.1Z" fill="#00BFC4"/>
<path d="M516.2 1052.1L519.9 1056.0L516.2 1059.9L512.5 1056.0Z" fill="#F8766D"/>
<path d="M430.6 1169.7L434.3 1173.6L430.6 1177.5L426.9 1173.6Z" fill="#00BFC4"/>
<path d="M474.6 1111.5L478.3 1115.4L474.6 1119.3L470.9 1115.4Z" fill="#00BFC4"/>
<path d="M482.0 1095.2L485.7 1099.1L482.0 1103.0L478.3 1099.1Z" fill="#00BFC4"/>
<path d="M474.2 1109.5L477.9 1113.4L474.2 1117.3L470.5 1113.4Z" fill="#F8766D"/>
<path d="M466.8 1119.7L470.5 1123.6L466.8 1127.5L463.1 1123.6Z" fill="#00BFC4"/>
<path d="M488.0 1092.6L491.7 1096.5L488.0 1100.4L484.3 1096.5Z" fill="#00BFC4"/>
<path d="M415.7 1181.3L419.4 1185.2L415.7 1189.1L412.0 1185.2Z" fill="#F8766D"/>
<path d="M425.4 1164.7L429.1 1168.6L425.4 1172.5L421.7 1168.6Z" fill="#F8766D"/>
<path d="M531.7 1032.5L535.4 1036.4L531.7 1040.3L528.0 1036.4Z" fill="#F8766D"/>
<path d="M507.1 1071.8L510.8 1075.7L507.1 1079.6L503.4 1075.7Z" fill="#F8766D"/>
<path d="M520.1 1050.7L523.8 1054.6L520.1 1058.5L516.4 1054.6Z" fill="#00BFC4"/>
<path d="M555.7 1003.5L559.4 1007.4L555.7 1011.3L552.0 1007.4Z" fill="#00BFC4"/>
<path d="M514.6 1051.5L518.3 1055.4L514.6 1059.3L510.9 1055.4Z" fill="#F8766D"/>
<path d="M484.4 1098.8L488.1 1102.7L484.4 1106.6L480.7 1102.7Z" fill="#F8766D"/>
<path d="M418.3 1186.4L422.0 1190.3L418.3 1194.2L414.6 1190.3Z" fill="#F8766D"/>
<path d="M424.3 1171.5L428.0 1175.4L424.3 1179.3L420.6 1175.4Z" fill="#F8766D"/>
<path d="M382.4 1222.0L386.1 1225.9L382.4 1229.8L378.7 1225.9Z" fill="#00BFC4"/>
<path d="M452.7 1131.3L456.4 1135.2L452.7 1139.1L449.0 1135.2Z" fill="#F8766D"/>
<path d="M415.6 1176.7L419.3 1180.6L415.6 1184.5L411.9 1180.6Z" fill="#00BFC4"/>
<path d="M500.2 1071.5L503.9 1075.4L500.2 1079.3L496.5 1075.4Z" fill="#00BFC4"/>
<path d="M449.9 1135.3L453.6 1139.2L449.9 1143.1L446.2 1139.2Z" fill="#00BFC4"/>
<path d="M484.9 1098.9L488.6 1102.8L484.9 1106.7L481.2 1102.8Z" fill="#F8766D"/>
<path d="M472.4 1110.9L476.1 1114.8L472.4 1118.7L468.7 1114.8Z" fill="#F8766D"/>
<path d="M418.9 1172.3L422.6 1176.2L418.9 1180.1L415.2 1176.2Z" fill="#F8766D"/>
<path d="M426.6 1170.6L430.3 1174.5L426.6 1178.4L422.9 1174.5Z" fill="#F8766D"/>
<path d="M405.4 1196.4L409.1 1200.3L405.4 1204.2L401.7 1200.3Z" fill="#00BFC4"/>
<path d="M524.2 1043.1L527.9 1047.0L524.2 1050.9L520.5 1047.0Z" fill="#F8766D"/>
<path d="M505.1 1073.8L508.8 1077.7L505.1 1081.6L501.4 1077.7Z" fill="#00BFC4"/>
<path d="M548.0 1015.4L551.7 1019.3L548.0 1023.2L544.3 1019.3Z" fill="#F8766D"/>
<path d="M415.8 1181.9L419.5 1185.8L415.8 1189.7L412.1 1185.8Z" fill="#F8766D"/>
<path d="M514.2 1061.6L517.9 1065.5L514.2 1069.4L510.5 1065.5Z" fill="#00BFC4"/>
<path d="M535.4 1032.7L539.1 1036.6L535.4 1040.5L531.7 1036.6Z" fill="#F8766D"/>
<path d="M434.5 1160.6L438.2 1164.5L434.5 1168.4L430.8 1164.5Z" fill="#F8766D"/>
<path d="M481.7 1100.8L485.4 1104.7L481.7 1108.6L478.0 1104.7Z" fill="#F8766D"/>
<path d="M530.5 1039.6L534.2 1043.5L530.5 1047.4L526.8 1043.5Z" fill="#00BFC4"/>
<path d="M520.3 1046.9L524.0 1050.8L520.3 1054.7L516.6 1050.8Z" fill="#F8766D"/>
<path d="M466.4 1121.4L470.1 1125.3L466.4 1129.2L462.7 1125.3Z" fill="#00BFC4"/>
<path d="M436.3 1158.6L440.0 1162.5L436.3 1166.4L432.6 1162.5Z" fill="#F8766D"/>
<path d="M551.1 1016.3L554.8 1020.2L551.1 1024.1L547.4 1020.2Z" fill="#00BFC4"/>
<path d="M493.7 1087.7L497.4 1091.6L493.7 1095.5L490.0 1091.6Z" fill="#F8766D"/>
<path d="M426.3 1162.6L430.0 1166.5L426.3 1170.4L422.6 1166.5Z" fill="#00BFC4"/>
<path d="M464.0 1119.8L467.7 1123.7L464.0 1127.6L460.3 1123.7Z" fill="#F8766D"/>
<path d="M475.3 1103.5L479.0 1107.4L475.3 1111.3L471.6 1107.4Z" fill="#00BFC4"/>
<path d="M429.4 1159.2L433.1 1163.1L429.4 1167.0L425.7 1163.1Z" fill="#00BFC4"/>
<path d="M421.0 1179.0L424.7 1182.9L421.0 1186.8L417.3 1182.9Z" fill="#F8766D"/>
<path d="M549.6 1018.0L553.3 1021.9L549.6 1025.8L545.9 1021.9Z" fill="#F8766D"/>
<path d="M374.8 1227.4L378.5 1231.3L374.8 1235.2L371.1 1231.3Z" fill="#00BFC4"/>
<path d="M462.3 1128.6L466.0 1132.5L462.3 1136.4L458.6 1132.5Z" fill="#F8766D"/>
<path d="M553.2 1012.7L556.9 1016.6L553.2 1020.5L549.5 1016.6Z" fill="#00BFC4"/>
<path d="M489.6 1084.3L493.3 1088.2L489.6 1092.1L485.9 1088.2Z" fill="#F8766D"/>
<path d="M486.0 1092.3L489.7 1096.2L486.0 1100.1L482.3 1096.2Z" fill="#F8766D"/>
<path d="M548.5 1016.8L552.2 1020.7L548.5 1024.6L544.8 1020.7Z" fill="#00BFC4"/>
<path d="M480.7 1106.4L484.4 1110.3L480.7 1114.2L477.0 1110.3Z" fill="#00BFC4"/>
<path d="M414.9 1179.4L418.6 1183.3L414.9 1187.2L411.2 1183.3Z" fill="#00BFC4"/>
<path d="M520.2 1046.0L523.9 1049.9L520.2 1053.8L516.5 1049.9Z" fill="#F8766D"/>
<path d="M490.3 1094.0L494.0 1097.9L490.3 1101.8L486.6 1097.9Z" fill="#00BFC4"/>
<path d="M467.6 1120.1L471.3 1124.0L467.6 1127.9L463.9 1124.0Z" fill="#00BFC4"/>
<path d="M436.7 1158.9L440.4 1162.8L436.7 1166.7L433.0 1162.8Z" fill="#00BFC4"/>
<path d="M381.5 1222.4L385.2 1226.3L381.5 1230.2L377.8 1226.3Z" fill="#00BFC4"/>
<path d="M445.2 1140.1L448.9 1144.0L445.2 1147.9L441.5 1144.0Z" fill="#00BFC4"/>
<path d="M433.8 1165.5L437.5 1169.4L433.8 1173.3L430.1 1169.4Z" fill="#F8766D"/>
<path d="M482.7 1098.9L486.4 1102.8L482.7 1106.7L479.0 1102.8Z" fill="#F8766D"/>
<path d="M496.8 1076.1L500.5 1080.0L496.8 1083.9L493.1 1080.0Z" fill="#00BFC4"/>
<path d="M485.9 1097.4L489.6 1101.3L485.9 1105.2L482.2 1101.3Z" fill="#F8766D"/>
<path d="M402.8 1195.0L406.5 1198.9L402.8 1202.8L399.1 1198.9Z" fill="#F8766D"/>
<path d="M507.9 1069.0L511.6 1072.9L507.9 1076.8L504.2 1072.9Z" fill="#F8766D"/>
<path d="M383.6 1221.5L387.3 1225.4L383.6 1229.3L379.9 1225.4Z" fill="#00BFC4"/>
<path d="M495.4 1078.9L499.1 1082.8L495.4 1086.7L491.7 1082.8Z" fill="#00BFC4"/>
<path d="M523.8 1045.5L527.5 1049.4L523.8 1053.3L520.1 1049.4Z" fill="#F8766D"/>
<path d="M438.2 1154.4L441.9 1158.3L438.2 1162.2L434.5 1158.3Z" fill="#00BFC4"/>
<path d="M437.5 1154.0L441.2 1157.9L437.5 1161.8L433.8 1157.9Z" fill="#00BFC4"/>
<path d="M550.6 1010.3L554.3 1014.2L550.6 1018.1L546.9 1014.2Z" fill="#00BFC4"/>
<path d="M418.9 1175.8L422.6 1179.7L418.9 1183.6L415.2 1179.7Z" fill="#F8766D"/>
<path d="M473.8 1111.3L477.5 1115.2L473.8 1119.1L470.1 1115.2Z" fill="#F8766D"/>
<path d="M476.9 1108.3L480.6 1112.2L476.9 1116.1L473.2 1112.2Z" fill="#F8766D"/>
<path d="M467.8 1117.0L471.5 1120.9L467.8 1124.8L464.1 1120.9Z" fill="#F8766D"/>
<path d="M432.0 1159.5L435.7 1163.4L432.0 1167.3L428.3 1163.4Z" fill="#F8766D"/>
<path d="M523.7 1050.0L527.4 1053.9L523.7 1057.8L520.0 1053.9Z" fill="#F8766D"/>
<path d="M545.2 1025.0L548.9 1028.9L545.2 1032.8L541.5 1028.9Z" fill="#F8766D"/>
<path d="M481.2 1102.4L484.9 1106.3L481.2 1110.2L477.5 1106.3Z" fill="#F8766D"/>
<path d="M529.1 1035.0L532.8 1038.9L529.1 1042.8L525.4 1038.9Z" fill="#00BFC4"/>
<path d="M553.4 1007.2L557.1 1011.1L553.4 1015.0L549.7 1011.1Z" fill="#00BFC4"/>
<path d="M493.1 1080.3L496.8 1084.2L493.1 1088.1L489.4 1084.2Z" fill="#F8766D"/>
<path d="M430.8 1170.7L434.5 1174.6L430.8 1178.5L427.1 1174.6Z" fill="#F8766D"/>
<path d="M460.4 1120.2L464.1 1124.1L460.4 1128.0L456.7 1124.1Z" fill="#00BFC4"/>
<path d="M545.1 1019.6L548.8 1023.5L545.1 1027.4L541.4 1023.5Z" fill="#00BFC4"/>
<path d="M469.2 1115.4L472.9 1119.3L469.2 1123.2L465.5 1119.3Z" fill="#F8766D"/>
<path d="M424.6 1174.0L428.3 1177.9L424.6 1181.8L420.9 1177.9Z" fill="#F8766D"/>
<path d="M523.2 1045.6L526.9 1049.5L523.2 1053.4L519.5 1049.5Z" fill="#00BFC4"/>
<path d="M425.7 1170.7L429.4 1174.6L425.7 1178.5L422.0 1174.6Z" fill="#00BFC4"/>
<path d="M519.7 1050.2L523.4 1054.1L519.7 1058.0L516.0 1054.1Z" fill="#00BFC4"/>
<path d="M385.6 1214.1L389.3 1218.0L385.6 1221.9L381.9 1218.0Z" fill="#F8766D"/>
<path d="M520.4 1048.0L524.1 1051.9L520.4 1055.8L516.7 1051.9Z" fill="#00BFC4"/>
<path d="M422.4 1172.5L426.1 1176.4L422.4 1180.3L418.7 1176.4Z" fill="#F8766D"/>
<path d="M409.4 1190.0L413.1 1193.9L409.4 1197.8L405.7 1193.9Z" fill="#F8766D"/>
<path d="M533.2 1038.6L536.9 1042.5L533.2 1046.4L529.5 1042.5Z" fill="#F8766D"/>
<path d="M480.1 1103.8L483.8 1107.7L480.1 1111.6L476.4 1107.7Z" fill="#00BFC4"/>
<path d="M487.3 1086.7L491.0 1090.6L487.3 1094.5L483.6 1090.6Z" fill="#00BFC4"/>
<path d="M549.9 1017.4L553.6 1021.3L549.9 1025.2L546.2 1021.3Z" fill="#F8766D"/>
<path d="M449.8 1134.0L453.5 1137.9L449.8 1141.8L446.1 1137.9Z" fill="#00BFC4"/>
<path d="M519.0 1048.9L522.7 1052.8L519.0 1056.7L515.3 1052.8Z" fill="#00BFC4"/>
<path d="M496.9 1083.1L500.6 1087.0L496.9 1090.9L493.2 1087.0Z" fill="#00BFC4"/>
<path d="M550.7 1014.9L554.4 1018.8L550.7 1022.7L547.0 1018.8Z" fill="#00BFC4"/>
<path d="M466.7 1117.5L470.4 1121.4L466.7 1125.3L463.0 1121.4Z" fill="#00BFC4"/>
<path d="M400.9 1200.8L404.6 1204.7L400.9 1208.6L397.2 1204.7Z" fill="#00BFC4"/>
<path d="M472.5 1113.4L476.2 1117.3L472.5 1121.2L468.8 1117.3Z" fill="#F8766D"/>
<path d="M422.9 1170.4L426.6 1174.3L422.9 1178.2L419.2 1174.3Z" fill="#F8766D"/>
<path d="M422.5 1171.8L426.2 1175.7L422.5 1179.6L418.8 1175.7Z" fill="#F8766D"/>
<path d="M425.7 1172.1L429.4 1176.0L425.7 1179.9L422.0 1176.0Z" fill="#F8766D"/>
<path d="M484.0 1092.0L487.7 1095.9L484.0 1099.8L480.3 1095.9Z" fill="#F8766D"/>
<path d="M465.9 1119.9L469.6 1123.8L465.9 1127.7L462.2 1123.8Z" fill="#F8766D"/>
<path d="M419.2 1180.2L422.9 1184.1L419.2 1188.0L415.5 1184.1Z" fill="#F8766D"/>
<path d="M508.8 1069.0L512.5 1072.9L508.8 1076.8L505.1 1072.9Z" fill="#00BFC4"/>
<path d="M409.3 1187.2L413.0 1191.1L409.3 1195.0L405.6 1191.1Z" fill="#F8766D"/>
<path d="M519.9 1048.2L523.6 1052.1L519.9 1056.0L516.2 1052.1Z" fill="#F8766D"/>
<path d="M485.0 1092.0L488.7 1095.9L485.0 1099.8L481.3 1095.9Z" fill="#F8766D"/>
<path d="M414.9 1188.4L418.6 1192.3L414.9 1196.2L411.2 1192.3Z" fill="#00BFC4"/>
<path d="M386.1 1215.0L389.8 1218.9L386.1 1222.8L382.4 1218.9Z" fill="#F8766D"/>
<path d="M524.7 1044.0L528.4 1047.9L524.7 1051.8L521.0 1047.9Z" fill="#00BFC4"/>
<path d="M477.7 1100.1L481.4 1104.0L477.7 1107.9L474.0 1104.0Z" fill="#F8766D"/>
<path d="M535.7 1035.8L539.4 1039.7L535.7 1043.6L532.0 1039.7Z" fill="#F8766D"/>
<path d="M443.7 1149.2L447.4 1153.1L443.7 1157.0L440.0 1153.1Z" fill="#F8766D"/>
<path d="M467.6 1121.4L471.3 1125.3L467.6 1129.2L463.9 1125.3Z" fill="#F8766D"/>
<path d="M430.4 1164.2L434.1 1168.1L430.4 1172.0L426.7 1168.1Z" fill="#00BFC4"/>
<path d="M513.0 1055.5L516.7 1059.4L513.0 1063.3L509.3 1059.4Z" fill="#F8766D"/>
<path d="M431.4 1163.0L435.1 1166.9L431.4 1170.8L427.7 1166.9Z" fill="#F8766D"/>
<path d="M455.6 1127.9L459.3 1131.8L455.6 1135.7L451.9 1131.8Z" fill="#F8766D"/>
<path d="M470.1 1113.7L473.8 1117.6L470.1 1121.5L466.4 1117.6Z" fill="#F8766D"/>
<path d="M433.1 1154.9L436.8 1158.8L433.1 1162.7L429.4 1158.8Z" fill="#F8766D"/>
<path d="M419.9 1182.7L423.6 1186.6L419.9 1190.5L416.2 1186.6Z" fill="#F8766D"/>
<path d="M395.7 1207.4L399.4 1211.3L395.7 1215.2L392.0 1211.3Z" fill="#F8766D"/>
<path d="M478.0 1108.3L481.7 1112.2L478.0 1116.1L474.3 1112.2Z" fill="#00BFC4"/>
<path d="M529.4 1035.6L533.1 1039.5L529.4 1043.4L525.7 1039.5Z" fill="#F8766D"/>
<path d="M481.6 1094.9L485.3 1098.8L481.6 1102.7L477.9 1098.8Z" fill="#F8766D"/>
<path d="M551.3 1009.8L555.0 1013.7L551.3 1017.6L547.6 1013.7Z" fill="#F8766D"/>
<path d="M513.3 1054.1L517.0 1058.0L513.3 1061.9L509.6 1058.0Z" fill="#F8766D"/>
<path d="M384.0 1218.8L387.7 1222.7L384.0 1226.6L380.3 1222.7Z" fill="#00BFC4"/>
<path d="M542.1 1020.7L545.8 1024.6L542.1 1028.5L538.4 1024.6Z" fill="#00BFC4"/>
<path d="M508.6 1063.5L512.3 1067.4L508.6 1071.3L504.9 1067.4Z" fill="#F8766D"/>
<path d="M419.8 1183.6L423.5 1187.5L419.8 1191.4L416.1 1187.5Z" fill="#00BFC4"/>
<path d="M534.8 1028.8L538.5 1032.7L534.8 1036.6L531.1 1032.7Z" fill="#F8766D"/>
<path d="M427.9 1170.9L431.6 1174.8L427.9 1178.7L424.2 1174.8Z" fill="#F8766D"/>
<path d="M516.0 1055.7L519.7 1059.6L516.0 1063.5L512.3 1059.6Z" fill="#F8766D"/>
<path d="M406.4 1193.7L410.1 1197.6L406.4 1201.5L402.7 1197.6Z" fill="#F8766D"/>
<path d="M436.9 1159.3L440.6 1163.2L436.9 1167.1L433.2 1163.2Z" fill="#00BFC4"/>
<path d="M513.8 1061.9L517.5 1065.8L513.8 1069.7L510.1 1065.8Z" fill="#00BFC4"/>
<path d="M405.8 1191.5L409.5 1195.4L405.8 1199.3L402.1 1195.4Z" fill="#00BFC4"/>
<path d="M507.2 1072.8L510.9 1076.7L507.2 1080.6L503.5 1076.7Z" fill="#F8766D"/>
<path d="M524.4 1043.7L528.1 1047.6L524.4 1051.5L520.7 1047.6Z" fill="#F8766D"/>
<path d="M467.0 1113.1L470.7 1117.0L467.0 1120.9L463.3 1117.0Z" fill="#00BFC4"/>
<path d="M513.4 1057.4L517.1 1061.3L513.4 1065.2L509.7 1061.3Z" fill="#F8766D"/>
<path d="M439.9 1146.5L443.6 1150.4L439.9 1154.3L436.2 1150.4Z" fill="#00BFC4"/>
<path d="M511.4 1059.8L515.1 1063.7L511.4 1067.6L507.7 1063.7Z" fill="#00BFC4"/>
<path d="M445.3 1141.3L449.0 1145.2L445.3 1149.1L441.6 1145.2Z" fill="#00BFC4"/>
<path d="M544.4 1019.9L548.1 1023.8L544.4 1027.7L540.7 1023.8Z" fill="#00BFC4"/>
<path d="M457.4 1125.7L461.1 1129.6L457.4 1133.5L453.7 1129.6Z" fill="#F8766D"/>
<path d="M501.0 1071.5L504.7 1075.4L501.0 1079.3L497.3 1075.4Z" fill="#F8766D"/>
<path d="M542.8 1027.1L546.5 1031.0L542.8 1034.9L539.1 1031.0Z" fill="#F8766D"/>
<path d="M492.5 1087.7L496.2 1091.6L492.5 1095.5L488.8 1091.6Z" fill="#F8766D"/>
<path d="M403.3 1194.1L407.0 1198.0L403.3 1201.9L399.6 1198.0Z" fill="#F8766D"/>
<path d="M465.0 1125.0L468.7 1128.9L465.0 1132.8L461.3 1128.9Z" fill="#F8766D"/>
<path d="M536.0 1030.2L539.7 1034.1L536.0 1038.0L532.3 1034.1Z" fill="#00BFC4"/>
<path d="M437.6 1156.8L441.3 1160.7L437.6 1164.6L433.9 1160.7Z" fill="#F8766D"/>
<path d="M498.5 1075.4L502.2 1079.3L498.5 1083.2L494.8 1079.3Z" fill="#00BFC4"/>
<path d="M502.3 1072.0L506.0 1075.9L502.3 1079.8L498.6 1075.9Z" fill="#00BFC4"/>
<path d="M375.0 1228.6L378.7 1232.5L375.0 1236.4L371.3 1232.5Z" fill="#00BFC4"/>
<path d="M437.4 1157.8L441.1 1161.7L437.4 1165.6L433.7 1161.7Z" fill="#F8766D"/>
<path d="M479.0 1103.7L482.7 1107.6L479.0 1111.5L475.3 1107.6Z" fill="#00BFC4"/>
<path d="M476.7 1100.3L480.4 1104.2L476.7 1108.1L473.0 1104.2Z" fill="#00BFC4"/>
<path d="M464.5 1117.7L468.2 1121.6L464.5 1125.5L460.8 1121.6Z" fill="#F8766D"/>
<path d="M431.1 1170.0L434.8 1173.9L431.1 1177.8L427.4 1173.9Z" fill="#00BFC4"/>
<path d="M426.7 1175.2L430.4 1179.1L426.7 1183.0L423.0 1179.1Z" fill="#00BFC4"/>
<path d="M482.2 1102.4L485.9 1106.3L482.2 1110.2L478.5 1106.3Z" fill="#00BFC4"/>
<path d="M384.2 1220.9L387.9 1224.8L384.2 1228.7L380.5 1224.8Z" fill="#00BFC4"/>
<path d="M444.4 1140.5L448.1 1144.4L444.4 1148.3L440.7 1144.4Z" fill="#F8766D"/>
<path d="M441.7 1143.7L445.4 1147.6L441.7 1151.5L438.0 1147.6Z" fill="#00BFC4"/>
<path d="M528.8 1042.4L532.5 1046.3L528.8 1050.2L525.1 1046.3Z" fill="#F8766D"/>
<path d="M555.3 1005.0L559.0 1008.9L555.3 1012.8L551.6 1008.9Z" fill="#F8766D"/>
<path d="M399.1 1198.0L402.8 1201.9L399.1 1205.8L395.4 1201.9Z" fill="#00BFC4"/>
<path d="M530.8 1040.4L534.5 1044.3L530.8 1048.2L527.1 1044.3Z" fill="#00BFC4"/>
<path d="M435.7 1153.4L439.4 1157.3L435.7 1161.2L432.0 1157.3Z" fill="#F8766D"/>
<path d="M448.3 1140.1L452.0 1144.0L448.3 1147.9L444.6 1144.0Z" fill="#F8766D"/>
<path d="M529.2 1042.5L532.9 1046.4L529.2 1050.3L525.5 1046.4Z" fill="#00BFC4"/>
<path d="M450.8 1138.0L454.5 1141.9L450.8 1145.8L447.1 1141.9Z" fill="#F8766D"/>
<path d="M460.8 1125.8L464.5 1129.7L460.8 1133.6L457.1 1129.7Z" fill="#F8766D"/>
<path d="M446.3 1139.4L450.0 1143.3L446.3 1147.2L442.6 1143.3Z" fill="#00BFC4"/>
<path d="M433.3 1158.7L437.0 1162.6L433.3 1166.5L429.6 1162.6Z" fill="#00BFC4"/>
<path d="M550.9 1015.8L554.6 1019.7L550.9 1023.6L547.2 1019.7Z" fill="#00BFC4"/>
<path d="M436.8 1151.8L440.5 1155.7L436.8 1159.6L433.1 1155.7Z" fill="#F8766D"/>
<path d="M539.6 1028.6L543.3 1032.5L539.6 1036.4L535.9 1032.5Z" fill="#00BFC4"/>
<path d="M483.4 1093.5L487.1 1097.4L483.4 1101.3L479.7 1097.4Z" fill="#00BFC4"/>
<path d="M486.4 1096.1L490.1 1100.0L486.4 1103.9L482.7 1100.0Z" fill="#F8766D"/>
<path d="M434.7 1154.9L438.4 1158.8L434.7 1162.7L431.0 1158.8Z" fill="#F8766D"/>
<path d="M473.8 1109.9L477.5 1113.8L473.8 1117.7L470.1 1113.8Z" fill="#F8766D"/>
<path d="M479.0 1102.6L482.7 1106.5L479.0 1110.4L475.3 1106.5Z" fill="#00BFC4"/>
<path d="M451.2 1133.6L454.9 1137.5L451.2 1141.4L447.5 1137.5Z" fill="#F8766D"/>
<path d="M402.6 1200.1L406.3 1204.0L402.6 1207.9L398.9 1204.0Z" fill="#F8766D"/>
<path d="M416.6 1187.5L420.3 1191.4L416.6 1195.3L412.9 1191.4Z" fill="#F8766D"/>
<path d="M487.8 1088.8L491.5 1092.7L487.8 1096.6L484.1 1092.7Z" fill="#F8766D"/>
<path d="M523.4 1046.3L527.1 1050.2L523.4 1054.1L519.7 1050.2Z" fill="#F8766D"/>
<path d="M529.1 1038.1L532.8 1042.0L529.1 1045.9L525.4 1042.0Z" fill="#00BFC4"/>
<path d="M529.7 1037.9L533.4 1041.8L529.7 1045.7L526.0 1041.8Z" fill="#00BFC4"/>
<path d="M511.2 1064.3L514.9 1068.2L511.2 1072.1L507.5 1068.2Z" fill="#F8766D"/>
<path d="M485.6 1095.7L489.3 1099.6L485.6 1103.5L481.9 1099.6Z" fill="#F8766D"/>
<path d="M552.6 1017.9L556.3 1021.8L552.6 1025.7L548.9 1021.8Z" fill="#F8766D"/>
<path d="M403.6 1192.2L407.3 1196.1L403.6 1200.0L399.9 1196.1Z" fill="#00BFC4"/>
<path d="M417.8 1173.5L421.5 1177.4L417.8 1181.3L414.1 1177.4Z" fill="#00BFC4"/>
<path d="M470.4 1112.2L474.1 1116.1L470.4 1120.0L466.7 1116.1Z" fill="#F8766D"/>
<path d="M393.7 1206.9L397.4 1210.8L393.7 1214.7L390.0 1210.8Z" fill="#F8766D"/>
<path d="M422.6 1175.1L426.3 1179.0L422.6 1182.9L418.9 1179.0Z" fill="#F8766D"/>
<path d="M485.2 1090.2L488.9 1094.1L485.2 1098.0L481.5 1094.1Z" fill="#F8766D"/>
<path d="M473.6 1104.8L477.3 1108.7L473.6 1112.6L469.9 1108.7Z" fill="#00BFC4"/>
<path d="M449.5 1141.0L453.2 1144.9L449.5 1148.8L445.8 1144.9Z" fill="#F8766D"/>
<path d="M388.8 1216.3L392.5 1220.2L388.8 1224.1L385.1 1220.2Z" fill="#F8766D"/>
<path d="M526.5 1044.8L530.2 1048.7L526.5 1052.6L522.8 1048.7Z" fill="#F8766D"/>
<path d="M552.3 1012.0L556.0 1015.9L552.3 1019.8L548.6 1015.9Z" fill="#00BFC4"/>
<path d="M544.8 1017.2L548.5 1021.1L544.8 1025.0L541.1 1021.1Z" fill="#00BFC4"/>
<path d="M380.4 1225.0L384.1 1228.9L380.4 1232.8L376.7 1228.9Z" fill="#00BFC4"/>
<path d="M415.7 1176.9L419.4 1180.8L415.7 1184.7L412.0 1180.8Z" fill="#00BFC4"/>
<path d="M490.9 1086.1L494.6 1090.0L490.9 1093.9L487.2 1090.0Z" fill="#00BFC4"/>
<path d="M480.3 1102.1L484.0 1106.0L480.3 1109.9L476.6 1106.0Z" fill="#F8766D"/>
<path d="M434.8 1162.6L438.5 1166.5L434.8 1170.4L431.1 1166.5Z" fill="#F8766D"/>
<path d="M487.5 1097.1L491.2 1101.0L487.5 1104.9L483.8 1101.0Z" fill="#F8766D"/>
<path d="M536.4 1029.8L540.1 1033.7L536.4 1037.6L532.7 1033.7Z" fill="#F8766D"/>
<path d="M476.1 1105.5L479.8 1109.4L476.1 1113.3L472.4 1109.4Z" fill="#F8766D"/>
<path d="M435.1 1159.4L438.8 1163.3L435.1 1167.2L431.4 1163.3Z" fill="#F8766D"/>
<path d="M464.9 1121.7L468.6 1125.6L464.9 1129.5L461.2 1125.6Z" fill="#00BFC4"/>
<path d="M422.9 1169.8L426.6 1173.7L422.9 1177.6L419.2 1173.7Z" fill="#00BFC4"/>
<path d="M437.3 1159.2L441.0 1163.1L437.3 1167.0L433.6 1163.1Z" fill="#F8766D"/>
<path d="M108.6 1554.9L112.3 1558.8L108.6 1562.7L104.9 1558.8Z" fill="#00BFC4"/>
<path d="M263.1 1363.8L266.8 1367.7L263.1 1371.6L259.4 1367.7Z" fill="#00BFC4"/>
<path d="M298.5 1320.8L302.2 1324.7L298.5 1328.6L294.8 1324.7Z" fill="#00BFC4"/>
<path d="M303.8 1315.3L307.5 1319.2L303.8 1323.1L300.1 1319.2Z" fill="#00BFC4"/>
<path d="M306.3 1311.1L310.0 1315.0L306.3 1318.9L302.6 1315.0Z" fill="#00BFC4"/>
<path d="M320.6 1293.8L324.3 1297.7L320.6 1301.6L316.9 1297.7Z" fill="#00BFC4"/>
<path d="M329.0 1282.7L332.7 1286.6L329.0 1290.5L325.3 1286.6Z" fill="#00BFC4"/>
<path d="M331.9 1278.9L335.6 1282.8L331.9 1286.7L328.2 1282.8Z" fill="#00BFC4"/>
<path d="M537.6 1049.5L541.3 1053.4L537.6 1057.3L533.9 1053.4Z" fill="#00BFC4"/>
<path d="M556.8 1031.4L560.5 1035.3L556.8 1039.2L553.1 1035.3Z" fill="#00BFC4"/>
<path d="M431.7 1177.3L435.4 1181.2L431.7 1185.1L428.0 1181.2Z" fill="#00BFC4"/>
<path d="M420.6 1190.1L424.3 1194.0L420.6 1197.9L416.9 1194.0Z" fill="#00BFC4"/>
<path d="M463.4 1137.6L467.1 1141.5L463.4 1145.4L459.7 1141.5Z" fill="#00BFC4"/>
<path d="M440.6 1166.0L444.3 1169.9L440.6 1173.8L436.9 1169.9Z" fill="#00BFC4"/>
<path d="M386.0 1221.0L389.7 1224.9L386.0 1228.8L382.3 1224.9Z" fill="#F8766D"/>
<path d="M396.3 1208.9L400.0 1212.8L396.3 1216.7L392.6 1212.8Z" fill="#F8766D"/>
<path d="M403.5 1201.7L407.2 1205.6L403.5 1209.5L399.8 1205.6Z" fill="#F8766D"/>
<path d="M409.5 1194.1L413.2 1198.0L409.5 1201.9L405.8 1198.0Z" fill="#F8766D"/>
<path d="M389.0 1215.3L392.7 1219.2L389.0 1223.1L385.3 1219.2Z" fill="#F8766D"/>
<path d="M420.6 1176.3L424.3 1180.2L420.6 1184.1L416.9 1180.2Z" fill="#F8766D"/>
<path d="M417.0 1180.1L420.7 1184.0L417.0 1187.9L413.3 1184.0Z" fill="#F8766D"/>
<path d="M423.0 1173.1L426.7 1177.0L423.0 1180.9L419.3 1177.0Z" fill="#F8766D"/>
<path d="M408.5 1194.5L412.2 1198.4L408.5 1202.3L404.8 1198.4Z" fill="#F8766D"/>
<path d="M402.4 1200.5L406.1 1204.4L402.4 1208.3L398.7 1204.4Z" fill="#F8766D"/>
<path d="M396.4 1208.6L400.1 1212.5L396.4 1216.4L392.7 1212.5Z" fill="#F8766D"/>
<path d="M386.3 1220.7L390.0 1224.6L386.3 1228.5L382.6 1224.6Z" fill="#F8766D"/>
<path d="M546.6 1011.8L550.3 1015.7L546.6 1019.6L542.9 1015.7Z" fill="#00BFC4"/>
<path d="M551.1 1014.8L554.8 1018.7L551.1 1022.6L547.4 1018.7Z" fill="#F8766D"/>
<path d="M549.5 1008.5L553.2 1012.4L549.5 1016.3L545.8 1012.4Z" fill="#00BFC4"/>
<path d="M554.2 1011.8L557.9 1015.7L554.2 1019.6L550.5 1015.7Z" fill="#00BFC4"/>
<path d="M551.9 1005.4L555.6 1009.3L551.9 1013.2L548.2 1009.3Z" fill="#00BFC4"/>
<path d="M558.0 1008.0L561.7 1011.9L558.0 1015.8L554.3 1011.9Z" fill="#00BFC4"/>
<path d="M555.6 1000.4L559.3 1004.3L555.6 1008.2L551.9 1004.3Z" fill="#00BFC4"/>
<path d="M561.3 1004.3L565.0 1008.2L561.3 1012.1L557.6 1008.2Z" fill="#F8766D"/>
<path d="M559.1 996.1L562.8 1000.0L559.1 1003.9L555.4 1000.0Z" fill="#00BFC4"/>
<path d="M564.3 1000.3L568.0 1004.2L564.3 1008.1L560.6 1004.2Z" fill="#00BFC4"/>
<path d="M562.3 993.8L566.0 997.7L562.3 1001.6L558.6 997.7Z" fill="#F8766D"/>
<path d="M568.1 997.1L571.8 1001.0L568.1 1004.9L564.4 1001.0Z" fill="#00BFC4"/>
<path d="M565.7 989.3L569.4 993.2L565.7 997.1L562.0 993.2Z" fill="#00BFC4"/>
<path d="M571.6 992.9L575.3 996.8L571.6 1000.7L567.9 996.8Z" fill="#F8766D"/>
<path d="M569.8 986.1L573.5 990.0L569.8 993.9L566.1 990.0Z" fill="#00BFC4"/>
<path d="M573.7 989.9L577.4 993.8L573.7 997.7L570.0 993.8Z" fill="#F8766D"/>
<path d="M574.1 982.7L577.8 986.6L574.1 990.5L570.4 986.6Z" fill="#F8766D"/>
<path d="M578.8 985.3L582.5 989.2L578.8 993.1L575.1 989.2Z" fill="#F8766D"/>
<path d="M576.7 978.5L580.4 982.4L576.7 986.3L573.0 982.4Z" fill="#F8766D"/>
<path d="M581.1 982.4L584.8 986.3L581.1 990.2L577.4 986.3Z" fill="#F8766D"/>
<path d="M580.2 973.3L583.9 977.2L580.2 981.1L576.5 977.2Z" fill="#00BFC4"/>
<path d="M585.7 976.9L589.4 980.8L585.7 984.7L582.0 980.8Z" fill="#00BFC4"/>
<path d="M584.4 970.8L588.1 974.7L584.4 978.6L580.7 974.7Z" fill="#00BFC4"/>
<path d="M588.1 974.3L591.8 978.2L588.1 982.1L584.4 978.2Z" fill="#F8766D"/>
<path d="M586.6 965.8L590.3 969.7L586.6 973.6L582.9 969.7Z" fill="#F8766D"/>
<path d="M592.4 971.0L596.1 974.9L592.4 978.8L588.7 974.9Z" fill="#00BFC4"/>
<path d="M590.6 962.0L594.3 965.9L590.6 969.8L586.9 965.9Z" fill="#00BFC4"/>
<path d="M595.5 966.8L599.2 970.7L595.5 974.6L591.8 970.7Z" fill="#F8766D"/>
<path d="M592.9 958.2L596.6 962.1L592.9 966.0L589.2 962.1Z" fill="#F8766D"/>
<path d="M597.6 962.3L601.3 966.2L597.6 970.1L593.9 966.2Z" fill="#F8766D"/>
<path d="M598.1 954.5L601.8 958.4L598.1 962.3L594.4 958.4Z" fill="#00BFC4"/>
<path d="M602.4 957.9L606.1 961.8L602.4 965.7L598.7 961.8Z" fill="#F8766D"/>
<path d="M599.8 952.4L603.5 956.3L599.8 960.2L596.1 956.3Z" fill="#00BFC4"/>
<path d="M605.2 954.7L608.9 958.6L605.2 962.5L601.5 958.6Z" fill="#00BFC4"/>
<path d="M604.6 947.9L608.3 951.8L604.6 955.7L600.9 951.8Z" fill="#00BFC4"/>
<path d="M608.2 951.9L611.9 955.8L608.2 959.7L604.5 955.8Z" fill="#F8766D"/>
<path d="M607.8 943.5L611.5 947.4L607.8 951.3L604.1 947.4Z" fill="#00BFC4"/>
<path d="M612.0 946.8L615.7 950.7L612.0 954.6L608.3 950.7Z" fill="#F8766D"/>
<path d="M610.1 939.1L613.8 943.0L610.1 946.9L606.4 943.0Z" fill="#00BFC4"/>
<path d="M614.7 944.4L618.4 948.3L614.7 952.2L611.0 948.3Z" fill="#F8766D"/>
<path d="M651.4 890.5L655.1 894.4L651.4 898.3L647.7 894.4Z" fill="#00BFC4"/>
<path d="M640.0 897.3L643.7 901.2L640.0 905.1L636.3 901.2Z" fill="#00BFC4"/>
<path d="M632.4 907.2L636.1 911.1L632.4 915.0L628.7 911.1Z" fill="#00BFC4"/>
<path d="M638.5 907.9L642.2 911.8L638.5 915.7L634.8 911.8Z" fill="#00BFC4"/>
<path d="M622.6 926.1L626.3 930.0L622.6 933.9L618.9 930.0Z" fill="#00BFC4"/>
<path d="M614.2 942.8L617.9 946.7L614.2 950.6L610.5 946.7Z" fill="#00BFC4"/>
<path d="M611.2 940.5L614.9 944.4L611.2 948.3L607.5 944.4Z" fill="#00BFC4"/>
<path d="M602.1 945.0L605.8 948.9L602.1 952.8L598.4 948.9Z" fill="#00BFC4"/>
<path d="M597.6 952.6L601.3 956.5L597.6 960.4L593.9 956.5Z" fill="#00BFC4"/>
<path d="M593.0 957.2L596.7 961.1L593.0 965.0L589.3 961.1Z" fill="#00BFC4"/>
<path d="M590.0 958.7L593.7 962.6L590.0 966.5L586.3 962.6Z" fill="#00BFC4"/>
<path d="M587.0 963.2L590.7 967.1L587.0 971.0L583.3 967.1Z" fill="#00BFC4"/>
<path d="M583.9 967.0L587.6 970.9L583.9 974.8L580.2 970.9Z" fill="#00BFC4"/>
<path d="M588.5 970.8L592.2 974.7L588.5 978.6L584.8 974.7Z" fill="#00BFC4"/>
<path d="M580.9 970.0L584.6 973.9L580.9 977.8L577.2 973.9Z" fill="#00BFC4"/>
<path d="M576.4 976.1L580.1 980.0L576.4 983.9L572.7 980.0Z" fill="#00BFC4"/>
<path d="M575.6 982.2L579.3 986.1L575.6 990.0L571.9 986.1Z" fill="#00BFC4"/>
<path d="M571.8 982.2L575.5 986.1L571.8 990.0L568.1 986.1Z" fill="#00BFC4"/>
<path d="M568.8 988.2L572.5 992.1L568.8 996.0L565.1 992.1Z" fill="#00BFC4"/>
<path d="M564.2 991.3L567.9 995.2L564.2 999.1L560.5 995.2Z" fill="#00BFC4"/>
<path d="M559.7 997.3L563.4 1001.2L559.7 1005.1L556.0 1001.2Z" fill="#00BFC4"/>
<path d="M556.7 1001.9L560.4 1005.8L556.7 1009.7L553.0 1005.8Z" fill="#00BFC4"/>
<path d="M552.1 1006.4L555.8 1010.3L552.1 1014.2L548.4 1010.3Z" fill="#00BFC4"/>
<path d="M549.1 1009.4L552.8 1013.3L549.1 1017.2L545.4 1013.3Z" fill="#00BFC4"/>
<path d="M546.0 1014.0L549.7 1017.9L546.0 1021.8L542.3 1017.9Z" fill="#00BFC4"/>
<path d="M605.0 943.1L608.7 947.0L605.0 950.9L601.3 947.0Z" fill="#00BFC4"/>
<path d="M584.0 973.1L587.7 977.0L584.0 980.9L580.3 977.0Z" fill="#00BFC4"/>
<path d="M649.8 895.0L653.5 898.9L649.8 902.8L646.1 898.9Z" fill="#F8766D"/>
<path d="M646.1 900.3L649.8 904.2L646.1 908.1L642.4 904.2Z" fill="#F8766D"/>
<path d="M628.6 920.8L632.3 924.7L628.6 928.6L624.9 924.7Z" fill="#F8766D"/>
<path d="M624.8 924.6L628.5 928.5L624.8 932.4L621.1 928.5Z" fill="#F8766D"/>
<path d="M620.3 930.6L624.0 934.5L620.3 938.4L616.6 934.5Z" fill="#F8766D"/>
<path d="M615.0 937.5L618.7 941.4L615.0 945.3L611.3 941.4Z" fill="#F8766D"/>
<path d="M607.4 948.8L611.1 952.7L607.4 956.6L603.7 952.7Z" fill="#F8766D"/>
<path d="M613.5 955.6L617.2 959.5L613.5 963.4L609.8 959.5Z" fill="#F8766D"/>
<path d="M600.6 954.9L604.3 958.8L600.6 962.7L596.9 958.8Z" fill="#F8766D"/>
<path d="M596.8 960.2L600.5 964.1L596.8 968.0L593.1 964.1Z" fill="#F8766D"/>
<path d="M592.3 964.0L596.0 967.9L592.3 971.8L588.6 967.9Z" fill="#F8766D"/>
<path d="M588.5 968.5L592.2 972.4L588.5 976.3L584.8 972.4Z" fill="#F8766D"/>
<path d="M580.9 976.1L584.6 980.0L580.9 983.9L577.2 980.0Z" fill="#F8766D"/>
<path d="M579.4 980.6L583.1 984.5L579.4 988.4L575.7 984.5Z" fill="#F8766D"/>
<path d="M582.4 987.5L586.1 991.4L582.4 995.3L578.7 991.4Z" fill="#F8766D"/>
<path d="M571.8 985.2L575.5 989.1L571.8 993.0L568.1 989.1Z" fill="#F8766D"/>
<path d="M576.4 995.8L580.1 999.7L576.4 1003.6L572.7 999.7Z" fill="#F8766D"/>
<path d="M565.8 997.3L569.5 1001.2L565.8 1005.1L562.1 1001.2Z" fill="#F8766D"/>
<path d="M558.2 1006.4L561.9 1010.3L558.2 1014.2L554.5 1010.3Z" fill="#F8766D"/>
<path d="M555.2 1009.4L558.9 1013.3L555.2 1017.2L551.5 1013.3Z" fill="#F8766D"/>
<path d="M585.0 977.1L588.7 981.0L585.0 984.9L581.3 981.0Z" fill="#F8766D"/>
<path d="M573.0 989.1L576.7 993.0L573.0 996.9L569.3 993.0Z" fill="#F8766D"/>
<text transform="translate(1.37,1720.8) scale(0.8,1)" font-family='"Liberation Sans", sans-serif' font-weight="bold" font-size="51" fill="#000" stroke="#000" stroke-width="0.7">C</text>
<text transform="translate(33.6,1719.4) scale(0.87,1)" font-family='"Liberation Sans", sans-serif' font-weight="bold" font-size="50.5" fill="#000" stroke="#000" stroke-width="0.7">)</text>
<line x1="82.5" y1="1697.6" x2="82.5" y2="2428.25" stroke="#000" stroke-width="1.5"/>
<line x1="81.75" y1="2427.5" x2="662.9" y2="2427.5" stroke="#000" stroke-width="1.5"/>
<line x1="75.0" y1="1803.3" x2="82.5" y2="1803.3" stroke="#555" stroke-width="1.3"/>
<text transform="translate(70.8,1810.4) scale(0.865,1)" text-anchor="end" font-family='"Liberation Sans", sans-serif' font-size="18" fill="#1a1a1a" stroke="#1a1a1a" stroke-width="0.35">800</text>
<line x1="75.0" y1="1998.15" x2="82.5" y2="1998.15" stroke="#555" stroke-width="1.3"/>
<text transform="translate(70.8,2006.8) scale(0.865,1)" text-anchor="end" font-family='"Liberation Sans", sans-serif' font-size="18" fill="#1a1a1a" stroke="#1a1a1a" stroke-width="0.35">600</text>
<line x1="75.0" y1="2193.3" x2="82.5" y2="2193.3" stroke="#555" stroke-width="1.3"/>
<text transform="translate(70.8,2201.5) scale(0.865,1)" text-anchor="end" font-family='"Liberation Sans", sans-serif' font-size="18" fill="#1a1a1a" stroke="#1a1a1a" stroke-width="0.35">400</text>
<line x1="75.0" y1="2389.5" x2="82.5" y2="2389.5" stroke="#555" stroke-width="1.3"/>
<text transform="translate(70.8,2396.6) scale(0.865,1)" text-anchor="end" font-family='"Liberation Sans", sans-serif' font-size="18" fill="#1a1a1a" stroke="#1a1a1a" stroke-width="0.35">200</text>
<line x1="101.9" y1="2427.5" x2="101.9" y2="2434.3" stroke="#555" stroke-width="1.3"/>
<text transform="translate(101.9,2453.1) scale(0.865,1)" text-anchor="middle" font-family='"Liberation Sans", sans-serif' font-size="18" fill="#1a1a1a" stroke="#1a1a1a" stroke-width="0.35">100</text>
<line x1="243.8" y1="2427.5" x2="243.8" y2="2434.3" stroke="#555" stroke-width="1.3"/>
<text transform="translate(243.8,2453.1) scale(0.865,1)" text-anchor="middle" font-family='"Liberation Sans", sans-serif' font-size="18" fill="#1a1a1a" stroke="#1a1a1a" stroke-width="0.35">200</text>
<line x1="385.8" y1="2427.5" x2="385.8" y2="2434.3" stroke="#555" stroke-width="1.3"/>
<text transform="translate(385.8,2453.1) scale(0.865,1)" text-anchor="middle" font-family='"Liberation Sans", sans-serif' font-size="18" fill="#1a1a1a" stroke="#1a1a1a" stroke-width="0.35">300</text>
<line x1="527.9" y1="2427.5" x2="527.9" y2="2434.3" stroke="#555" stroke-width="1.3"/>
<text transform="translate(527.9,2453.1) scale(0.865,1)" text-anchor="middle" font-family='"Liberation Sans", sans-serif' font-size="18" fill="#1a1a1a" stroke="#1a1a1a" stroke-width="0.35">400</text>
<text x="306.7" y="2474.4" font-family='"Liberation Sans", sans-serif' font-size="19.0" fill="#000">PFinder_length</text>
<text transform="translate(40.6,2061.6) rotate(-90)" text-anchor="middle" font-family='"Liberation Sans", sans-serif' font-size="19.8" fill="#000">bitscore</text>
<path d="M700.4 2054.1L704.0 2057.9L700.4 2061.7L696.8 2057.9Z" fill="#F8766D"/>
<text transform="translate(717.9,2066.5) scale(0.96,1)" font-family='"Liberation Sans", sans-serif' font-size="17" fill="#1a1a1a">Archaea</text>
<path d="M700.4 2082.3L704.0 2086.1L700.4 2089.9L696.8 2086.1Z" fill="#00BFC4"/>
<text transform="translate(717.9,2094.7) scale(0.96,1)" font-family='"Liberation Sans", sans-serif' font-size="17" fill="#1a1a1a">Bacteria</text>
<path d="M586.3 1778.7L590.0 1782.6L586.3 1786.5L582.6 1782.6Z" fill="#F8766D"/>
<path d="M572.6 1796.4L576.3 1800.3L572.6 1804.2L568.9 1800.3Z" fill="#F8766D"/>
<path d="M399.2 2017.1L402.9 2021.0L399.2 2024.9L395.5 2021.0Z" fill="#F8766D"/>
<path d="M374.4 2050.5L378.1 2054.4L374.4 2058.3L370.7 2054.4Z" fill="#F8766D"/>
<path d="M365.5 2066.4 L371.1 2066.9 L374.1 2063.9 L379.2 2057.9 L388.3 2047.8 L396.1 2037.9 L403.3 2026.6 L412.4 2018.5 L417.3 2010.5 L423.6 2003.4 L428.0 1998.0 L435.0 1988.9 L444.8 1978.1 L451.3 1976.3 L455.0 1967.0 L460.0 1961.0 L463.1 1951.7 L469.4 1946.5 L473.4 1939.4 L479.5 1934.4 L482.5 1929.3 L487.9 1924.1 L490.8 1918.2 L498.0 1908.9 L505.1 1898.8 L513.3 1888.6 L522.4 1878.5 L527.2 1872.6 L531.4 1865.5 L538.5 1858.4 L544.8 1848.0 L550.9 1841.0 L557.0 1830.6 L564.1 1824.9 L567.9 1824.1 L568.7 1818.4 L575.2 1808.5 L581.4 1802.4 L586.4 1795.4 L593.5 1788.2 L597.8 1783.1 L594.3 1783.7 L587.3 1786.3 L582.6 1793.0 L577.4 1797.2 L569.6 1807.0 L563.8 1815.6 L558.3 1828.6 L551.0 1831.7 L546.3 1839.4 L540.4 1845.2 L538.0 1851.6 L529.6 1859.0 L522.9 1867.7 L521.6 1870.0 L514.5 1876.1 L507.5 1886.0 L499.5 1896.1 L493.4 1905.2 L487.3 1912.3 L483.4 1918.4 L479.8 1922.8 L473.7 1929.9 L468.6 1935.9 L461.7 1943.8 L457.7 1950.9 L450.5 1959.2 L447.5 1963.2 L441.4 1970.3 L433.4 1980.3 L425.5 1990.1 L424.1 1993.5 L416.8 2001.9 L409.7 2010.9 L403.7 2019.0 L397.6 2027.2 L389.4 2036.3 L381.5 2045.1 L376.5 2054.3 L370.2 2060.6 L365.5 2066.4Z" fill="#00BFC4" stroke="#00BFC4" stroke-width="1" stroke-linejoin="round"/>
<path d="M366.7 2062.9L370.4 2066.8L366.7 2070.7L363.0 2066.8Z" fill="#00BFC4"/>
<path d="M369.9 2062.6L373.6 2066.5L369.9 2070.4L366.2 2066.5Z" fill="#00BFC4"/>
<path d="M372.0 2062.0L375.7 2065.9L372.0 2069.8L368.3 2065.9Z" fill="#00BFC4"/>
<path d="M374.3 2059.5L378.0 2063.4L374.3 2067.3L370.6 2063.4Z" fill="#00BFC4"/>
<path d="M376.0 2058.1L379.7 2062.0L376.0 2065.9L372.3 2062.0Z" fill="#00BFC4"/>
<path d="M377.7 2054.7L381.4 2058.6L377.7 2062.5L374.0 2058.6Z" fill="#00BFC4"/>
<path d="M380.6 2053.4L384.3 2057.3L380.6 2061.2L376.9 2057.3Z" fill="#00BFC4"/>
<path d="M383.1 2050.4L386.8 2054.3L383.1 2058.2L379.4 2054.3Z" fill="#00BFC4"/>
<path d="M385.9 2046.6L389.6 2050.5L385.9 2054.4L382.2 2050.5Z" fill="#00BFC4"/>
<path d="M388.1 2044.4L391.8 2048.3L388.1 2052.2L384.4 2048.3Z" fill="#00BFC4"/>
<path d="M390.2 2041.2L393.9 2045.1L390.2 2049.0L386.5 2045.1Z" fill="#00BFC4"/>
<path d="M392.0 2038.3L395.7 2042.2L392.0 2046.1L388.3 2042.2Z" fill="#00BFC4"/>
<path d="M395.1 2036.5L398.8 2040.4L395.1 2044.3L391.4 2040.4Z" fill="#00BFC4"/>
<path d="M396.9 2033.2L400.6 2037.1L396.9 2041.0L393.2 2037.1Z" fill="#00BFC4"/>
<path d="M398.5 2030.6L402.2 2034.5L398.5 2038.4L394.8 2034.5Z" fill="#00BFC4"/>
<path d="M399.3 2028.4L403.0 2032.3L399.3 2036.2L395.6 2032.3Z" fill="#00BFC4"/>
<path d="M401.1 2026.2L404.8 2030.1L401.1 2034.0L397.4 2030.1Z" fill="#00BFC4"/>
<path d="M402.3 2023.4L406.0 2027.3L402.3 2031.2L398.6 2027.3Z" fill="#00BFC4"/>
<path d="M404.4 2021.0L408.1 2024.9L404.4 2028.8L400.7 2024.9Z" fill="#00BFC4"/>
<path d="M406.4 2019.6L410.1 2023.5L406.4 2027.4L402.7 2023.5Z" fill="#00BFC4"/>
<path d="M410.0 2016.9L413.7 2020.8L410.0 2024.7L406.3 2020.8Z" fill="#00BFC4"/>
<path d="M412.4 2013.1L416.1 2017.0L412.4 2020.9L408.7 2017.0Z" fill="#00BFC4"/>
<path d="M415.5 2010.5L419.2 2014.4L415.5 2018.3L411.8 2014.4Z" fill="#00BFC4"/>
<path d="M416.3 2008.6L420.0 2012.5L416.3 2016.4L412.6 2012.5Z" fill="#00BFC4"/>
<path d="M419.3 2004.4L423.0 2008.3L419.3 2012.2L415.6 2008.3Z" fill="#00BFC4"/>
<path d="M421.3 2002.1L425.0 2006.0L421.3 2009.9L417.6 2006.0Z" fill="#00BFC4"/>
<path d="M423.9 2000.0L427.6 2003.9L423.9 2007.8L420.2 2003.9Z" fill="#00BFC4"/>
<path d="M425.2 1997.2L428.9 2001.1L425.2 2005.0L421.5 2001.1Z" fill="#00BFC4"/>
<path d="M428.0 1994.2L431.7 1998.1L428.0 2002.0L424.3 1998.1Z" fill="#00BFC4"/>
<path d="M429.9 1991.1L433.6 1995.0L429.9 1998.9L426.2 1995.0Z" fill="#00BFC4"/>
<path d="M432.0 1988.8L435.7 1992.7L432.0 1996.6L428.3 1992.7Z" fill="#00BFC4"/>
<path d="M432.8 1987.3L436.5 1991.2L432.8 1995.1L429.1 1991.2Z" fill="#00BFC4"/>
<path d="M435.6 1983.8L439.3 1987.7L435.6 1991.6L431.9 1987.7Z" fill="#00BFC4"/>
<path d="M437.4 1981.5L441.1 1985.4L437.4 1989.3L433.7 1985.4Z" fill="#00BFC4"/>
<path d="M439.9 1979.9L443.6 1983.8L439.9 1987.7L436.2 1983.8Z" fill="#00BFC4"/>
<path d="M440.8 1978.4L444.5 1982.3L440.8 1986.2L437.1 1982.3Z" fill="#00BFC4"/>
<path d="M442.8 1976.2L446.5 1980.1L442.8 1984.0L439.1 1980.1Z" fill="#00BFC4"/>
<path d="M445.1 1973.7L448.8 1977.6L445.1 1981.5L441.4 1977.6Z" fill="#00BFC4"/>
<path d="M449.6 1973.1L453.3 1977.0L449.6 1980.9L445.9 1977.0Z" fill="#00BFC4"/>
<path d="M451.8 1971.4L455.5 1975.3L451.8 1979.2L448.1 1975.3Z" fill="#00BFC4"/>
<path d="M452.5 1970.0L456.2 1973.9L452.5 1977.8L448.8 1973.9Z" fill="#00BFC4"/>
<path d="M453.5 1966.2L457.2 1970.1L453.5 1974.0L449.8 1970.1Z" fill="#00BFC4"/>
<path d="M455.3 1962.5L459.0 1966.4L455.3 1970.3L451.6 1966.4Z" fill="#00BFC4"/>
<path d="M457.2 1959.8L460.9 1963.7L457.2 1967.6L453.5 1963.7Z" fill="#00BFC4"/>
<path d="M459.1 1957.3L462.8 1961.2L459.1 1965.1L455.4 1961.2Z" fill="#00BFC4"/>
<path d="M460.0 1955.6L463.7 1959.5L460.0 1963.4L456.3 1959.5Z" fill="#00BFC4"/>
<path d="M461.0 1952.3L464.7 1956.2L461.0 1960.1L457.3 1956.2Z" fill="#00BFC4"/>
<path d="M462.5 1949.5L466.2 1953.4L462.5 1957.3L458.8 1953.4Z" fill="#00BFC4"/>
<path d="M463.8 1946.9L467.5 1950.8L463.8 1954.7L460.1 1950.8Z" fill="#00BFC4"/>
<path d="M466.6 1944.8L470.3 1948.7L466.6 1952.6L462.9 1948.7Z" fill="#00BFC4"/>
<path d="M468.7 1942.5L472.4 1946.4L468.7 1950.3L465.0 1946.4Z" fill="#00BFC4"/>
<path d="M470.1 1939.7L473.8 1943.6L470.1 1947.5L466.4 1943.6Z" fill="#00BFC4"/>
<path d="M472.1 1938.1L475.8 1942.0L472.1 1945.9L468.4 1942.0Z" fill="#00BFC4"/>
<path d="M474.2 1934.4L477.9 1938.3L474.2 1942.2L470.5 1938.3Z" fill="#00BFC4"/>
<path d="M477.2 1932.4L480.9 1936.3L477.2 1940.2L473.5 1936.3Z" fill="#00BFC4"/>
<path d="M479.9 1929.5L483.6 1933.4L479.9 1937.3L476.2 1933.4Z" fill="#00BFC4"/>
<path d="M480.6 1928.5L484.3 1932.4L480.6 1936.3L476.9 1932.4Z" fill="#00BFC4"/>
<path d="M482.3 1925.6L486.0 1929.5L482.3 1933.4L478.6 1929.5Z" fill="#00BFC4"/>
<path d="M484.8 1923.2L488.5 1927.1L484.8 1931.0L481.1 1927.1Z" fill="#00BFC4"/>
<path d="M487.3 1921.6L491.0 1925.5L487.3 1929.4L483.6 1925.5Z" fill="#00BFC4"/>
<path d="M489.5 1918.2L493.2 1922.1L489.5 1926.0L485.8 1922.1Z" fill="#00BFC4"/>
<path d="M490.6 1915.6L494.3 1919.5L490.6 1923.4L486.9 1919.5Z" fill="#00BFC4"/>
<path d="M492.2 1911.3L495.9 1915.2L492.2 1919.1L488.5 1915.2Z" fill="#00BFC4"/>
<path d="M495.3 1909.2L499.0 1913.1L495.3 1917.0L491.6 1913.1Z" fill="#00BFC4"/>
<path d="M497.3 1906.6L501.0 1910.5L497.3 1914.4L493.6 1910.5Z" fill="#00BFC4"/>
<path d="M497.5 1904.3L501.2 1908.2L497.5 1912.1L493.8 1908.2Z" fill="#00BFC4"/>
<path d="M499.7 1902.1L503.4 1906.0L499.7 1909.9L496.0 1906.0Z" fill="#00BFC4"/>
<path d="M503.3 1899.0L507.0 1902.9L503.3 1906.8L499.6 1902.9Z" fill="#00BFC4"/>
<path d="M504.5 1896.4L508.2 1900.3L504.5 1904.2L500.8 1900.3Z" fill="#00BFC4"/>
<path d="M506.3 1893.3L510.0 1897.2L506.3 1901.1L502.6 1897.2Z" fill="#00BFC4"/>
<path d="M507.9 1891.7L511.6 1895.6L507.9 1899.5L504.2 1895.6Z" fill="#00BFC4"/>
<path d="M509.9 1888.9L513.6 1892.8L509.9 1896.7L506.2 1892.8Z" fill="#00BFC4"/>
<path d="M511.5 1885.3L515.2 1889.2L511.5 1893.1L507.8 1889.2Z" fill="#00BFC4"/>
<path d="M513.8 1884.4L517.5 1888.3L513.8 1892.2L510.1 1888.3Z" fill="#00BFC4"/>
<path d="M516.4 1882.2L520.1 1886.1L516.4 1890.0L512.7 1886.1Z" fill="#00BFC4"/>
<path d="M518.7 1879.8L522.4 1883.7L518.7 1887.6L515.0 1883.7Z" fill="#00BFC4"/>
<path d="M519.9 1876.9L523.6 1880.8L519.9 1884.7L516.2 1880.8Z" fill="#00BFC4"/>
<path d="M523.0 1873.5L526.7 1877.4L523.0 1881.3L519.3 1877.4Z" fill="#00BFC4"/>
<path d="M524.8 1871.1L528.5 1875.0L524.8 1878.9L521.1 1875.0Z" fill="#00BFC4"/>
<path d="M526.4 1869.3L530.1 1873.2L526.4 1877.1L522.7 1873.2Z" fill="#00BFC4"/>
<path d="M527.9 1866.7L531.6 1870.6L527.9 1874.5L524.2 1870.6Z" fill="#00BFC4"/>
<path d="M530.4 1864.1L534.1 1868.0L530.4 1871.9L526.7 1868.0Z" fill="#00BFC4"/>
<path d="M532.1 1860.9L535.8 1864.8L532.1 1868.7L528.4 1864.8Z" fill="#00BFC4"/>
<path d="M534.5 1858.5L538.2 1862.4L534.5 1866.3L530.8 1862.4Z" fill="#00BFC4"/>
<path d="M536.6 1856.1L540.3 1860.0L536.6 1863.9L532.9 1860.0Z" fill="#00BFC4"/>
<path d="M539.5 1853.2L543.2 1857.1L539.5 1861.0L535.8 1857.1Z" fill="#00BFC4"/>
<path d="M540.2 1852.2L543.9 1856.1L540.2 1860.0L536.5 1856.1Z" fill="#00BFC4"/>
<path d="M541.7 1849.4L545.4 1853.3L541.7 1857.2L538.0 1853.3Z" fill="#00BFC4"/>
<path d="M543.2 1846.1L546.9 1850.0L543.2 1853.9L539.5 1850.0Z" fill="#00BFC4"/>
<path d="M545.2 1843.9L548.9 1847.8L545.2 1851.7L541.5 1847.8Z" fill="#00BFC4"/>
<path d="M546.0 1842.3L549.7 1846.2L546.0 1850.1L542.3 1846.2Z" fill="#00BFC4"/>
<path d="M549.3 1840.0L553.0 1843.9L549.3 1847.8L545.6 1843.9Z" fill="#00BFC4"/>
<path d="M550.9 1838.3L554.6 1842.2L550.9 1846.1L547.2 1842.2Z" fill="#00BFC4"/>
<path d="M552.9 1834.7L556.6 1838.6L552.9 1842.5L549.2 1838.6Z" fill="#00BFC4"/>
<path d="M554.6 1831.3L558.3 1835.2L554.6 1839.1L550.9 1835.2Z" fill="#00BFC4"/>
<path d="M555.3 1829.1L559.0 1833.0L555.3 1836.9L551.6 1833.0Z" fill="#00BFC4"/>
<path d="M557.3 1826.2L561.0 1830.1L557.3 1834.0L553.6 1830.1Z" fill="#00BFC4"/>
<path d="M560.6 1824.2L564.3 1828.1L560.6 1832.0L556.9 1828.1Z" fill="#00BFC4"/>
<path d="M563.6 1821.7L567.3 1825.6L563.6 1829.5L559.9 1825.6Z" fill="#00BFC4"/>
<path d="M567.0 1820.3L570.7 1824.2L567.0 1828.1L563.3 1824.2Z" fill="#00BFC4"/>
<path d="M568.3 1817.8L572.0 1821.7L568.3 1825.6L564.6 1821.7Z" fill="#00BFC4"/>
<path d="M569.1 1814.8L572.8 1818.7L569.1 1822.6L565.4 1818.7Z" fill="#00BFC4"/>
<path d="M570.7 1810.6L574.4 1814.5L570.7 1818.4L567.0 1814.5Z" fill="#00BFC4"/>
<path d="M572.6 1808.9L576.3 1812.8L572.6 1816.7L568.9 1812.8Z" fill="#00BFC4"/>
<path d="M575.5 1805.2L579.2 1809.1L575.5 1813.0L571.8 1809.1Z" fill="#00BFC4"/>
<path d="M577.0 1803.3L580.7 1807.2L577.0 1811.1L573.3 1807.2Z" fill="#00BFC4"/>
<path d="M578.3 1800.7L582.0 1804.6L578.3 1808.5L574.6 1804.6Z" fill="#00BFC4"/>
<path d="M580.5 1799.7L584.2 1803.6L580.5 1807.5L576.8 1803.6Z" fill="#00BFC4"/>
<path d="M583.0 1796.7L586.7 1800.6L583.0 1804.5L579.3 1800.6Z" fill="#00BFC4"/>
<path d="M584.7 1794.2L588.4 1798.1L584.7 1802.0L581.0 1798.1Z" fill="#00BFC4"/>
<path d="M585.0 1792.1L588.7 1796.0L585.0 1799.9L581.3 1796.0Z" fill="#00BFC4"/>
<path d="M587.1 1789.9L590.8 1793.8L587.1 1797.7L583.4 1793.8Z" fill="#00BFC4"/>
<path d="M589.4 1788.1L593.1 1792.0L589.4 1795.9L585.7 1792.0Z" fill="#00BFC4"/>
<path d="M591.2 1787.3L594.9 1791.2L591.2 1795.1L587.5 1791.2Z" fill="#00BFC4"/>
<path d="M593.9 1784.5L597.6 1788.4L593.9 1792.3L590.2 1788.4Z" fill="#00BFC4"/>
<path d="M596.6 1780.7L600.3 1784.6L596.6 1788.5L592.9 1784.6Z" fill="#00BFC4"/>
<path d="M597.8 1779.4L601.5 1783.3L597.8 1787.2L594.1 1783.3Z" fill="#00BFC4"/>
<path d="M595.0 1779.3L598.7 1783.2L595.0 1787.1L591.3 1783.2Z" fill="#00BFC4"/>
<path d="M591.0 1780.9L594.7 1784.8L591.0 1788.7L587.3 1784.8Z" fill="#00BFC4"/>
<path d="M588.2 1782.1L591.9 1786.0L588.2 1789.9L584.5 1786.0Z" fill="#00BFC4"/>
<path d="M586.6 1783.9L590.3 1787.8L586.6 1791.7L582.9 1787.8Z" fill="#00BFC4"/>
<path d="M583.4 1787.4L587.1 1791.3L583.4 1795.2L579.7 1791.3Z" fill="#00BFC4"/>
<path d="M582.9 1790.0L586.6 1793.9L582.9 1797.8L579.2 1793.9Z" fill="#00BFC4"/>
<path d="M580.6 1790.7L584.3 1794.6L580.6 1798.5L576.9 1794.6Z" fill="#00BFC4"/>
<path d="M577.3 1792.8L581.0 1796.7L577.3 1800.6L573.6 1796.7Z" fill="#00BFC4"/>
<path d="M576.5 1794.9L580.2 1798.8L576.5 1802.7L572.8 1798.8Z" fill="#00BFC4"/>
<path d="M574.5 1796.8L578.2 1800.7L574.5 1804.6L570.8 1800.7Z" fill="#00BFC4"/>
<path d="M572.2 1798.8L575.9 1802.7L572.2 1806.6L568.5 1802.7Z" fill="#00BFC4"/>
<path d="M569.3 1802.1L573.0 1806.0L569.3 1809.9L565.6 1806.0Z" fill="#00BFC4"/>
<path d="M568.1 1805.8L571.8 1809.7L568.1 1813.6L564.4 1809.7Z" fill="#00BFC4"/>
<path d="M565.4 1807.8L569.1 1811.7L565.4 1815.6L561.7 1811.7Z" fill="#00BFC4"/>
<path d="M563.7 1810.8L567.4 1814.7L563.7 1818.6L560.0 1814.7Z" fill="#00BFC4"/>
<path d="M561.7 1814.8L565.4 1818.7L561.7 1822.6L558.0 1818.7Z" fill="#00BFC4"/>
<path d="M561.3 1818.0L565.0 1821.9L561.3 1825.8L557.6 1821.9Z" fill="#00BFC4"/>
<path d="M559.6 1822.2L563.3 1826.1L559.6 1830.0L555.9 1826.1Z" fill="#00BFC4"/>
<path d="M557.6 1825.4L561.3 1829.3L557.6 1833.2L553.9 1829.3Z" fill="#00BFC4"/>
<path d="M553.6 1826.8L557.3 1830.7L553.6 1834.6L549.9 1830.7Z" fill="#00BFC4"/>
<path d="M550.6 1828.6L554.3 1832.5L550.6 1836.4L546.9 1832.5Z" fill="#00BFC4"/>
<path d="M549.6 1830.5L553.3 1834.4L549.6 1838.3L545.9 1834.4Z" fill="#00BFC4"/>
<path d="M547.3 1833.5L551.0 1837.4L547.3 1841.3L543.6 1837.4Z" fill="#00BFC4"/>
<path d="M546.3 1836.1L550.0 1840.0L546.3 1843.9L542.6 1840.0Z" fill="#00BFC4"/>
<path d="M543.8 1838.3L547.5 1842.2L543.8 1846.1L540.1 1842.2Z" fill="#00BFC4"/>
<path d="M541.3 1841.0L545.0 1844.9L541.3 1848.8L537.6 1844.9Z" fill="#00BFC4"/>
<path d="M539.9 1844.2L543.6 1848.1L539.9 1852.0L536.2 1848.1Z" fill="#00BFC4"/>
<path d="M537.7 1846.9L541.4 1850.8L537.7 1854.7L534.0 1850.8Z" fill="#00BFC4"/>
<path d="M536.0 1850.1L539.7 1854.0L536.0 1857.9L532.3 1854.0Z" fill="#00BFC4"/>
<path d="M534.0 1851.4L537.7 1855.3L534.0 1859.2L530.3 1855.3Z" fill="#00BFC4"/>
<path d="M532.2 1852.7L535.9 1856.6L532.2 1860.5L528.5 1856.6Z" fill="#00BFC4"/>
<path d="M528.9 1855.9L532.6 1859.8L528.9 1863.7L525.2 1859.8Z" fill="#00BFC4"/>
<path d="M527.4 1858.2L531.1 1862.1L527.4 1866.0L523.7 1862.1Z" fill="#00BFC4"/>
<path d="M525.3 1860.6L529.0 1864.5L525.3 1868.4L521.6 1864.5Z" fill="#00BFC4"/>
<path d="M524.0 1862.6L527.7 1866.5L524.0 1870.4L520.3 1866.5Z" fill="#00BFC4"/>
<path d="M521.9 1865.7L525.6 1869.6L521.9 1873.5L518.2 1869.6Z" fill="#00BFC4"/>
<path d="M518.3 1869.1L522.0 1873.0L518.3 1876.9L514.6 1873.0Z" fill="#00BFC4"/>
<path d="M517.6 1870.2L521.3 1874.1L517.6 1878.0L513.9 1874.1Z" fill="#00BFC4"/>
<path d="M515.1 1872.2L518.8 1876.1L515.1 1880.0L511.4 1876.1Z" fill="#00BFC4"/>
<path d="M512.0 1875.3L515.7 1879.2L512.0 1883.1L508.3 1879.2Z" fill="#00BFC4"/>
<path d="M510.2 1877.3L513.9 1881.2L510.2 1885.1L506.5 1881.2Z" fill="#00BFC4"/>
<path d="M509.3 1880.9L513.0 1884.8L509.3 1888.7L505.6 1884.8Z" fill="#00BFC4"/>
<path d="M506.1 1883.5L509.8 1887.4L506.1 1891.3L502.4 1887.4Z" fill="#00BFC4"/>
<path d="M505.4 1885.1L509.1 1889.0L505.4 1892.9L501.7 1889.0Z" fill="#00BFC4"/>
<path d="M502.0 1888.8L505.7 1892.7L502.0 1896.6L498.3 1892.7Z" fill="#00BFC4"/>
<path d="M499.5 1891.4L503.2 1895.3L499.5 1899.2L495.8 1895.3Z" fill="#00BFC4"/>
<path d="M498.7 1894.3L502.4 1898.2L498.7 1902.1L495.0 1898.2Z" fill="#00BFC4"/>
<path d="M496.4 1896.9L500.1 1900.8L496.4 1904.7L492.7 1900.8Z" fill="#00BFC4"/>
<path d="M494.9 1898.5L498.6 1902.4L494.9 1906.3L491.2 1902.4Z" fill="#00BFC4"/>
<path d="M492.1 1902.1L495.8 1906.0L492.1 1909.9L488.4 1906.0Z" fill="#00BFC4"/>
<path d="M491.1 1903.5L494.8 1907.4L491.1 1911.3L487.4 1907.4Z" fill="#00BFC4"/>
<path d="M489.6 1906.2L493.3 1910.1L489.6 1914.0L485.9 1910.1Z" fill="#00BFC4"/>
<path d="M487.2 1909.7L490.9 1913.6L487.2 1917.5L483.5 1913.6Z" fill="#00BFC4"/>
<path d="M485.7 1911.4L489.4 1915.3L485.7 1919.2L482.0 1915.3Z" fill="#00BFC4"/>
<path d="M483.5 1913.1L487.2 1917.0L483.5 1920.9L479.8 1917.0Z" fill="#00BFC4"/>
<path d="M482.4 1916.4L486.1 1920.3L482.4 1924.2L478.7 1920.3Z" fill="#00BFC4"/>
<path d="M479.2 1919.1L482.9 1923.0L479.2 1926.9L475.5 1923.0Z" fill="#00BFC4"/>
<path d="M477.2 1921.5L480.9 1925.4L477.2 1929.3L473.5 1925.4Z" fill="#00BFC4"/>
<path d="M475.6 1923.4L479.3 1927.3L475.6 1931.2L471.9 1927.3Z" fill="#00BFC4"/>
<path d="M472.9 1926.3L476.6 1930.2L472.9 1934.1L469.2 1930.2Z" fill="#00BFC4"/>
<path d="M471.9 1928.9L475.6 1932.8L471.9 1936.7L468.2 1932.8Z" fill="#00BFC4"/>
<path d="M470.1 1930.6L473.8 1934.5L470.1 1938.4L466.4 1934.5Z" fill="#00BFC4"/>
<path d="M467.7 1932.8L471.4 1936.7L467.7 1940.6L464.0 1936.7Z" fill="#00BFC4"/>
<path d="M465.6 1935.0L469.3 1938.9L465.6 1942.8L461.9 1938.9Z" fill="#00BFC4"/>
<path d="M463.0 1938.4L466.7 1942.3L463.0 1946.2L459.3 1942.3Z" fill="#00BFC4"/>
<path d="M461.1 1941.0L464.8 1944.9L461.1 1948.8L457.4 1944.9Z" fill="#00BFC4"/>
<path d="M459.3 1943.8L463.0 1947.7L459.3 1951.6L455.6 1947.7Z" fill="#00BFC4"/>
<path d="M457.7 1946.6L461.4 1950.5L457.7 1954.4L454.0 1950.5Z" fill="#00BFC4"/>
<path d="M456.6 1948.2L460.3 1952.1L456.6 1956.0L452.9 1952.1Z" fill="#00BFC4"/>
<path d="M455.0 1950.3L458.7 1954.2L455.0 1958.1L451.3 1954.2Z" fill="#00BFC4"/>
<path d="M452.7 1953.3L456.4 1957.2L452.7 1961.1L449.0 1957.2Z" fill="#00BFC4"/>
<path d="M449.7 1956.5L453.4 1960.4L449.7 1964.3L446.0 1960.4Z" fill="#00BFC4"/>
<path d="M447.0 1959.9L450.7 1963.8L447.0 1967.7L443.3 1963.8Z" fill="#00BFC4"/>
<path d="M445.8 1962.2L449.5 1966.1L445.8 1970.0L442.1 1966.1Z" fill="#00BFC4"/>
<path d="M443.2 1965.0L446.9 1968.9L443.2 1972.8L439.5 1968.9Z" fill="#00BFC4"/>
<path d="M439.5 1968.2L443.2 1972.1L439.5 1976.0L435.8 1972.1Z" fill="#00BFC4"/>
<path d="M438.6 1970.3L442.3 1974.2L438.6 1978.1L434.9 1974.2Z" fill="#00BFC4"/>
<path d="M437.1 1972.2L440.8 1976.1L437.1 1980.0L433.4 1976.1Z" fill="#00BFC4"/>
<path d="M434.6 1974.5L438.3 1978.4L434.6 1982.3L430.9 1978.4Z" fill="#00BFC4"/>
<path d="M432.5 1976.6L436.2 1980.5L432.5 1984.4L428.8 1980.5Z" fill="#00BFC4"/>
<path d="M430.4 1980.4L434.1 1984.3L430.4 1988.2L426.7 1984.3Z" fill="#00BFC4"/>
<path d="M427.9 1982.7L431.6 1986.6L427.9 1990.5L424.2 1986.6Z" fill="#00BFC4"/>
<path d="M426.2 1984.9L429.9 1988.8L426.2 1992.7L422.5 1988.8Z" fill="#00BFC4"/>
<path d="M424.2 1988.4L427.9 1992.3L424.2 1996.2L420.5 1992.3Z" fill="#00BFC4"/>
<path d="M423.4 1989.7L427.1 1993.6L423.4 1997.5L419.7 1993.6Z" fill="#00BFC4"/>
<path d="M421.6 1993.2L425.3 1997.1L421.6 2001.0L417.9 1997.1Z" fill="#00BFC4"/>
<path d="M419.8 1994.7L423.5 1998.6L419.8 2002.5L416.1 1998.6Z" fill="#00BFC4"/>
<path d="M415.8 1997.9L419.5 2001.8L415.8 2005.7L412.1 2001.8Z" fill="#00BFC4"/>
<path d="M414.5 2001.6L418.2 2005.5L414.5 2009.4L410.8 2005.5Z" fill="#00BFC4"/>
<path d="M412.9 2003.6L416.6 2007.5L412.9 2011.4L409.2 2007.5Z" fill="#00BFC4"/>
<path d="M410.1 2006.4L413.8 2010.3L410.1 2014.2L406.4 2010.3Z" fill="#00BFC4"/>
<path d="M408.8 2007.5L412.5 2011.4L408.8 2015.3L405.1 2011.4Z" fill="#00BFC4"/>
<path d="M407.3 2011.4L411.0 2015.3L407.3 2019.2L403.6 2015.3Z" fill="#00BFC4"/>
<path d="M404.0 2014.1L407.7 2018.0L404.0 2021.9L400.3 2018.0Z" fill="#00BFC4"/>
<path d="M403.7 2016.6L407.4 2020.5L403.7 2024.4L400.0 2020.5Z" fill="#00BFC4"/>
<path d="M401.9 2017.5L405.6 2021.4L401.9 2025.3L398.2 2021.4Z" fill="#00BFC4"/>
<path d="M400.6 2019.8L404.3 2023.7L400.6 2027.6L396.9 2023.7Z" fill="#00BFC4"/>
<path d="M398.5 2021.6L402.2 2025.5L398.5 2029.4L394.8 2025.5Z" fill="#00BFC4"/>
<path d="M396.6 2025.1L400.3 2029.0L396.6 2032.9L392.9 2029.0Z" fill="#00BFC4"/>
<path d="M395.2 2026.0L398.9 2029.9L395.2 2033.8L391.5 2029.9Z" fill="#00BFC4"/>
<path d="M392.6 2028.1L396.3 2032.0L392.6 2035.9L388.9 2032.0Z" fill="#00BFC4"/>
<path d="M391.4 2030.3L395.1 2034.2L391.4 2038.1L387.7 2034.2Z" fill="#00BFC4"/>
<path d="M389.4 2031.9L393.1 2035.8L389.4 2039.7L385.7 2035.8Z" fill="#00BFC4"/>
<path d="M387.6 2035.1L391.3 2039.0L387.6 2042.9L383.9 2039.0Z" fill="#00BFC4"/>
<path d="M384.7 2037.3L388.4 2041.2L384.7 2045.1L381.0 2041.2Z" fill="#00BFC4"/>
<path d="M382.3 2039.5L386.0 2043.4L382.3 2047.3L378.6 2043.4Z" fill="#00BFC4"/>
<path d="M380.6 2042.2L384.3 2046.1L380.6 2050.0L376.9 2046.1Z" fill="#00BFC4"/>
<path d="M379.9 2044.9L383.6 2048.8L379.9 2052.7L376.2 2048.8Z" fill="#00BFC4"/>
<path d="M377.6 2048.7L381.3 2052.6L377.6 2056.5L373.9 2052.6Z" fill="#00BFC4"/>
<path d="M375.9 2050.9L379.6 2054.8L375.9 2058.7L372.2 2054.8Z" fill="#00BFC4"/>
<path d="M374.1 2052.8L377.8 2056.7L374.1 2060.6L370.4 2056.7Z" fill="#00BFC4"/>
<path d="M372.1 2055.9L375.8 2059.8L372.1 2063.7L368.4 2059.8Z" fill="#00BFC4"/>
<path d="M369.5 2057.7L373.2 2061.6L369.5 2065.5L365.8 2061.6Z" fill="#00BFC4"/>
<path d="M366.1 2061.7L369.8 2065.6L366.1 2069.5L362.4 2065.6Z" fill="#00BFC4"/>
<path d="M108.6 2389.9L112.3 2393.8L108.6 2397.7L104.9 2393.8Z" fill="#00BFC4"/>
<path d="M259.6 2198.6L263.3 2202.5L259.6 2206.4L255.9 2202.5Z" fill="#00BFC4"/>
<path d="M430.8 2001.3L434.5 2005.2L430.8 2009.1L427.1 2005.2Z" fill="#00BFC4"/>
<path d="M362.7 2065.3L366.4 2069.2L362.7 2073.1L359.0 2069.2Z" fill="#00BFC4"/>
<path d="M369.5 2065.3L373.2 2069.2L369.5 2073.1L365.8 2069.2Z" fill="#00BFC4"/>
<path d="M370.3 2056.6L374.0 2060.5L370.3 2064.4L366.6 2060.5Z" fill="#00BFC4"/>
<path d="M377.9 2058.1L381.6 2062.0L377.9 2065.9L374.2 2062.0Z" fill="#00BFC4"/>
<path d="M543.7 1866.3L547.4 1870.2L543.7 1874.1L540.0 1870.2Z" fill="#00BFC4"/>
<path d="M525.2 1884.5L528.9 1888.4L525.2 1892.3L521.5 1888.4Z" fill="#00BFC4"/>
<path d="M599.6 1790.2L603.3 1794.1L599.6 1798.0L595.9 1794.1Z" fill="#00BFC4"/>
<path d="M564.3 1830.6L568.0 1834.5L564.3 1838.4L560.6 1834.5Z" fill="#00BFC4"/>
<path d="M597.2 1775.9L600.9 1779.8L597.2 1783.7L593.5 1779.8Z" fill="#00BFC4"/>
<path d="M600.2 1772.9L603.9 1776.8L600.2 1780.7L596.5 1776.8Z" fill="#00BFC4"/>
<path d="M605.8 1766.3L609.5 1770.2L605.8 1774.1L602.1 1770.2Z" fill="#00BFC4"/>
<path d="M607.8 1762.8L611.5 1766.7L607.8 1770.6L604.1 1766.7Z" fill="#00BFC4"/>
<path d="M610.3 1758.7L614.0 1762.6L610.3 1766.5L606.6 1762.6Z" fill="#00BFC4"/>
<path d="M612.8 1755.2L616.5 1759.1L612.8 1763.0L609.1 1759.1Z" fill="#00BFC4"/>
<path d="M610.5 1763.1L614.2 1767.0L610.5 1770.9L606.8 1767.0Z" fill="#00BFC4"/>
<path d="M614.0 1758.1L617.7 1762.0L614.0 1765.9L610.3 1762.0Z" fill="#00BFC4"/>
<path d="M617.9 1742.1L621.6 1746.0L617.9 1749.9L614.2 1746.0Z" fill="#00BFC4"/>
<path d="M622.9 1742.6L626.6 1746.5L622.9 1750.4L619.2 1746.5Z" fill="#00BFC4"/>
<path d="M623.4 1732.0L627.1 1735.9L623.4 1739.8L619.7 1735.9Z" fill="#00BFC4"/>
<path d="M630.5 1735.5L634.2 1739.4L630.5 1743.3L626.8 1739.4Z" fill="#00BFC4"/>
<path d="M634.5 1729.4L638.2 1733.3L634.5 1737.2L630.8 1733.3Z" fill="#00BFC4"/>
<path d="M637.1 1725.9L640.8 1729.8L637.1 1733.7L633.4 1729.8Z" fill="#00BFC4"/>
<path d="M292.4 2155.7L296.1 2159.6L292.4 2163.5L288.7 2159.6Z" fill="#F8766D"/>
<path d="M297.4 2149.8L301.1 2153.7L297.4 2157.6L293.7 2153.7Z" fill="#F8766D"/>
<path d="M300.0 2145.3L303.7 2149.2L300.0 2153.1L296.3 2149.2Z" fill="#F8766D"/>
<path d="M314.5 2128.7L318.2 2132.6L314.5 2136.5L310.8 2132.6Z" fill="#F8766D"/>
<path d="M322.7 2117.6L326.4 2121.5L322.7 2125.4L319.0 2121.5Z" fill="#F8766D"/>
<path d="M325.9 2113.8L329.6 2117.7L325.9 2121.6L322.2 2117.7Z" fill="#F8766D"/>
<path d="M421.7 2011.4L425.4 2015.3L421.7 2019.2L418.0 2015.3Z" fill="#F8766D"/>
<path d="M412.1 2025.0L415.8 2028.9L412.1 2032.8L408.4 2028.9Z" fill="#F8766D"/>
</svg></body></html>
